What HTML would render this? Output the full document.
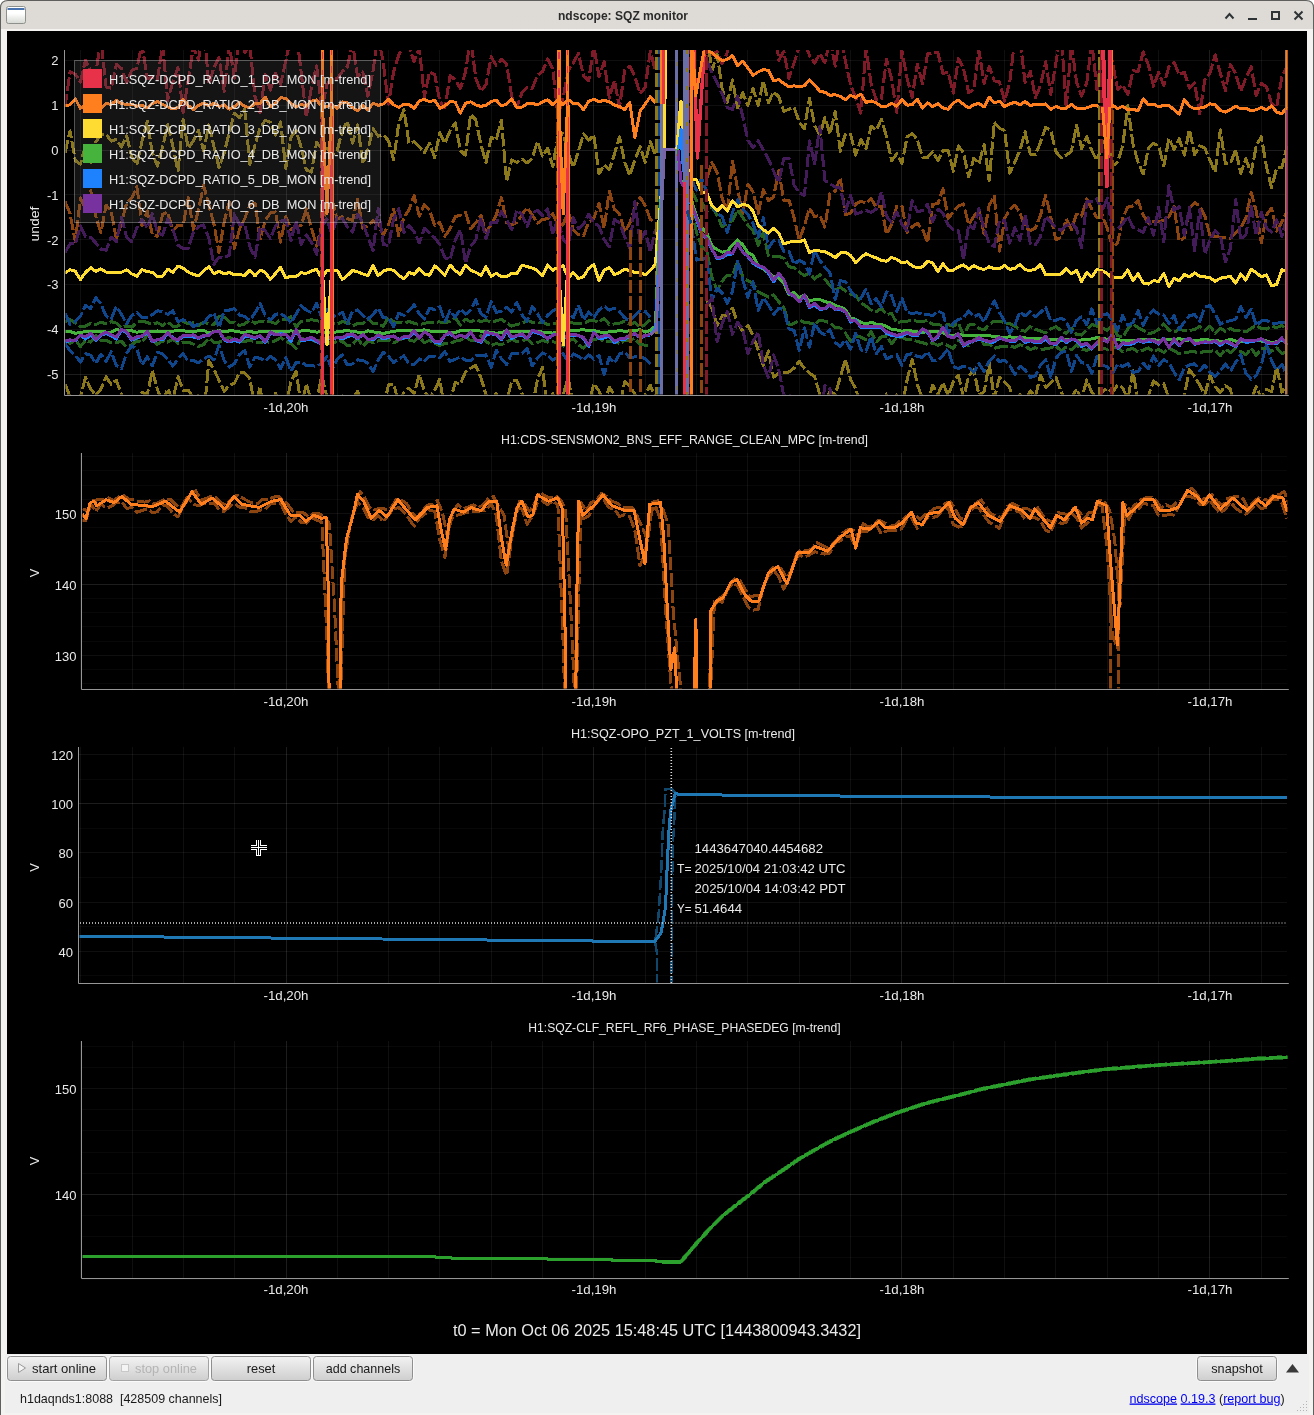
<!DOCTYPE html>
<html lang="en"><head><meta charset="utf-8"><title>ndscope: SQZ monitor</title>
<style>html,body{margin:0;padding:0;background:#ffffff;width:1314px;height:1415px;overflow:hidden}
svg{display:block;position:absolute;left:0;top:0;font-family:"Liberation Sans", "DejaVu Sans", sans-serif}
</style></head><body>
<svg width="1314" height="1415" viewBox="0 0 1314 1415">
<defs>
<linearGradient id="tb" x1="0" y1="0" x2="0" y2="1"><stop offset="0" stop-color="#dedbd7"/><stop offset="1" stop-color="#d9d6d2"/></linearGradient>
<linearGradient id="btn" x1="0" y1="0" x2="0" y2="1"><stop offset="0" stop-color="#f3f3f3"/><stop offset="1" stop-color="#cecece"/></linearGradient>
<linearGradient id="ico" x1="0" y1="0" x2="0" y2="1"><stop offset="0" stop-color="#ffffff"/><stop offset="0.4" stop-color="#ffffff"/><stop offset="1" stop-color="#d5d9d3"/></linearGradient>
</defs>
<rect x="0" y="0" width="1314" height="1415" fill="#ffffff"/>
<path d="M0 1415 V8 Q0 0 8 0 H1306 Q1314 0 1314 8 V1415 Z" fill="#5f5f5d"/>
<path d="M1 1415 V8 Q1 1 8 1 H1306 Q1313 1 1313 8 V1415 Z" fill="url(#tb)"/>
<rect x="1" y="29" width="1312" height="1386" fill="#f4f3f1"/>
<rect x="7" y="31" width="1300" height="1323" fill="#000"/>
<rect x="5" y="1354" width="1304" height="59" fill="#efefef"/>
<rect x="6.5" y="6.5" width="19" height="17" rx="2" fill="url(#ico)" stroke="#8e908c"/>
<rect x="7.5" y="8" width="17" height="2" fill="#4a74b0"/>
<text x="623" y="20" font-size="13" fill="#2b2b2b" text-anchor="middle" font-weight="bold" textLength="130" lengthAdjust="spacingAndGlyphs">ndscope: SQZ monitor</text>
<g stroke="#2e3436" stroke-width="2" fill="none">
<path d="M1225.5 18.5 L1229.5 14 L1233.5 18.5"/>
<path d="M1248 19 H1257"/>
<rect x="1272" y="12" width="7" height="7"/>
<path d="M1294.5 11.5 L1302.5 19.5 M1302.5 11.5 L1294.5 19.5"/>
</g>
<clipPath id="c1"><rect x="65.5" y="50" width="1222" height="344.5"/></clipPath>
<path d="M80.5 50V395M132.5 50V395M183.5 50V395M234.5 50V395M337.5 50V395M388.5 50V395M439.5 50V395M491.5 50V395M542.5 50V395M645.5 50V395M696.5 50V395M747.5 50V395M799.5 50V395M850.5 50V395M953.5 50V395M1004.5 50V395M1055.5 50V395M1107.5 50V395M1158.5 50V395M1261.5 50V395M65 60.5H1287M65 105.5H1287M65 194.5H1287M65 239.5H1287M65 284.5H1287M65 329.5H1287" stroke="#fff" stroke-opacity="0.058" stroke-width="1" fill="none"/>
<path d="M286.5 50V395M593.5 50V395M901.5 50V395M1209.5 50V395M65 150.5H1287M65 374.5H1287" stroke="#fff" stroke-opacity="0.115" stroke-width="1" fill="none"/>
<g clip-path="url(#c1)" fill="none" stroke-linejoin="round" shape-rendering="crispEdges">
<polyline points="65,107.1 70.1,71.5 75.3,74.1 80.4,82 85.5,60.1 90.7,71.2 95.8,73.3 100.9,39.4 106.1,86.9 111.2,88.2 116.3,64.4 121.5,68.6 126.6,82.6 131.7,70.4 136.9,68.3 142,44.2 147.2,78.7 152.3,77.1 157.4,79.7 162.6,45 167.7,100.3 172.8,82 178,67.7 183.1,112.2 188.2,80.4 193.4,46.5 198.5,60.2 203.6,26 208.8,84.6 213.9,67.5 219,57.7 224.2,91.3 229.3,44.7 234.4,78.2 239.6,33.9 244.7,52.5 249.8,45.6 255,96.5 260.1,112.6 265.2,74.7 270.4,90.1 275.5,73.1 280.6,84.4 285.8,60.7 290.9,37.3 296.1,30.7 301.2,72.2 306.3,117 311.5,87.2 316.6,65.7 321.7,109.1 326.9,85 332,77.5 337.1,78.9 342.3,71.6 347.4,66.7 352.5,43.6 357.7,77 362.8,71.9 367.9,96.1 373.1,70.4 378.2,35.1 383.3,63.4 388.5,104.3 393.6,71.7 398.7,55.2 403.9,45.9 409,46.9 414.1,61.7 419.3,47.5 424.4,97.1 429.5,72.1 434.7,74.7 439.8,101.3 444.9,107.9 450.1,75.6 455.2,79.8 460.4,88.5 465.5,72 470.6,37.7 475.8,78.4 480.9,91.3 486,84.5 491.2,56.8 496.3,65.6 501.4,59.5 506.6,64 511.7,96.2 516.8,107.2 522,92.5 527.1,87.2 532.2,88.6 537.4,75.4 542.5,71.5 547.6,59 552.8,68.6 557.9,115.9 563,98.1 568.2,70.7 573.3,62.7 578.4,53.4 583.6,75.8 588.7,80.6 593.8,45.6 599,76.4 604.1,61.9 609.3,98.1 614.4,80.4 619.5,107.4 624.7,70.2 629.8,66.1 634.9,76.7 640.1,93.7 645.2,87.5 650.3,50.9 655.5,71.4" stroke="#7f1b28" stroke-width="3" stroke-dasharray="13.5 3"/>
<polyline points="706.8,56.5 711.9,54.2 717.1,51.5 722.2,63.7 727.3,52.5 732.5,32.1 737.6,33.5 742.7,30.9 747.9,45.8 753,22.6 758.2,2.8 763.3,41.4 768.4,23.8 773.6,11.3 778.7,60.3 783.8,51.5 789,78.3 794.1,62.6 799.2,47.1 804.4,41.6 809.5,55.5 814.6,63.3 819.8,53.6 824.9,62.9 830,39 835.2,66.1 840.3,34.4 845.4,61 850.6,84.8 855.7,97.7 860.8,113.1 866,48.9 871.1,83.8 876.2,100 881.4,98.7 886.5,59.2 891.6,78.9 896.8,112.7 901.9,50.4 907.1,78.6 912.2,97.4 917.3,64 922.5,83.7 927.6,53.6 932.7,53 937.9,52.8 943,73.6 948.1,72 953.3,93.2 958.4,58.5 963.5,68.3 968.7,92.8 973.8,89.5 978.9,50.1 984.1,83.2 989.2,66.3 994.3,80.8 999.5,82 1004.6,101.2 1009.7,82.4 1014.9,38.1 1020,39.3 1025.1,82.8 1030.3,71.2 1035.4,97.6 1040.5,85.2 1045.7,61.7 1050.8,94.7 1055.9,62.5 1061.1,30.5 1066.2,108.8 1071.4,42.8 1076.5,82 1081.6,96.2 1086.8,82.7 1091.9,42.4 1097,89.9 1102.2,49 1107.3,42.8 1112.4,61.8 1117.6,89.4 1122.7,84.9 1127.8,94.5 1133,70.7 1138.1,71.6 1143.2,51.9 1148.4,64.9 1153.5,86.3 1158.6,72.3 1163.8,85.5 1168.9,66.6 1174,62.4 1179.2,74.7 1184.3,72.3 1189.4,88.1 1194.6,82.8 1199.7,113.9 1204.8,79.9 1210,73 1215.1,54.9 1220.3,73.2 1225.4,90.5 1230.5,64.7 1235.7,73.8 1240.8,91.5 1245.9,77.7 1251.1,66.9 1256.2,95.5 1261.3,83.3 1266.5,87 1271.6,103.8 1276.7,106.6 1281.9,76.5 1287,66.9" stroke="#7f1b28" stroke-width="3" stroke-dasharray="13.5 3"/>
<polyline points="65,201.5 70.1,213.8 75.3,241.6 80.4,197.8 85.5,209.1 90.7,190.5 95.8,216.5 100.9,232.9 106.1,205.1 111.2,211.8 116.3,238.6 121.5,223.2 126.6,203.2 131.7,198.1 136.9,186.8 142,225.5 147.2,210.9 152.3,234.4 157.4,236.4 162.6,214.4 167.7,211.9 172.8,230.6 178,225.1 183.1,225.8 188.2,197.7 193.4,229.5 198.5,209.8 203.6,185.4 208.8,204.8 213.9,224 219,252.4 224.2,221.8 229.3,201.6 234.4,248.3 239.6,228.8 244.7,218.7 249.8,204.7 255,203 260.1,239.1 265.2,220.6 270.4,213 275.5,211.9 280.6,242.2 285.8,216.6 290.9,229.3 296.1,226.6 301.2,225.6 306.3,209 311.5,228.3 316.6,246.1 321.7,225.3 326.9,208.3 332,199.5 337.1,219.5 342.3,216.7 347.4,218.6 352.5,220.7 357.7,199.3 362.8,228.1 367.9,225.9 373.1,220.9 378.2,224.4 383.3,235.3 388.5,224.6 393.6,209.2 398.7,235.8 403.9,217.6 409,209.7 414.1,195.8 419.3,216.1 424.4,204.6 429.5,210.1 434.7,225.4 439.8,222.4 444.9,236.2 450.1,228.5 455.2,216.6 460.4,215.3 465.5,212.4 470.6,228.8 475.8,222.9 480.9,215.3 486,232.3 491.2,224.7 496.3,214.9 501.4,197.6 506.6,222.7 511.7,224.9 516.8,222.5 522,214.9 527.1,207.5 532.2,215 537.4,223.2 542.5,219.6 547.6,218.6 552.8,213.6 557.9,224.5 563,225.1 568.2,210.8 573.3,230.1 578.4,234.5 583.6,235.6 588.7,222 593.8,218.3 599,203.4 604.1,228.6 609.3,191.1 614.4,209.3 619.5,213.7 624.7,232.1 629.8,223.2 634.9,207.3 640.1,197.3 645.2,205.5 650.3,219.5 655.5,221.5" stroke="#8c4510" stroke-width="3" stroke-dasharray="13.5 3"/>
<polyline points="706.8,178.7 711.9,162.7 717.1,172.3 722.2,198.6 727.3,210.5 732.5,161.5 737.6,188.8 742.7,214.2 747.9,184.3 753,191.8 758.2,213.3 763.3,189.8 768.4,200.7 773.6,197 778.7,170.4 783.8,200.2 789,200 794.1,217.9 799.2,240.3 804.4,225.7 809.5,208.1 814.6,216.7 819.8,215.1 824.9,227.1 830,193.6 835.2,191.2 840.3,178.1 845.4,214.8 850.6,213.2 855.7,204 860.8,201.2 866,203.2 871.1,198.7 876.2,207 881.4,206.4 886.5,234.2 891.6,224.4 896.8,206 901.9,206 907.1,232.5 912.2,226.8 917.3,223.3 922.5,228.9 927.6,242.7 932.7,204.3 937.9,203.6 943,188.8 948.1,218.7 953.3,211.9 958.4,206.2 963.5,203.8 968.7,224.6 973.8,216.6 978.9,209.3 984.1,234.1 989.2,205.2 994.3,196.2 999.5,251.2 1004.6,218.6 1009.7,209.6 1014.9,205.1 1020,212.8 1025.1,227.9 1030.3,230.5 1035.4,228 1040.5,215.4 1045.7,195.1 1050.8,217.1 1055.9,239.7 1061.1,237.6 1066.2,219 1071.4,229.5 1076.5,214.2 1081.6,216 1086.8,199 1091.9,209.2 1097,217.9 1102.2,215.1 1107.3,228.4 1112.4,247.4 1117.6,242.9 1122.7,218.2 1127.8,207 1133,205.9 1138.1,200.9 1143.2,214.8 1148.4,223.3 1153.5,221.5 1158.6,221.3 1163.8,220.7 1168.9,216.4 1174,206.5 1179.2,240.8 1184.3,237.7 1189.4,208.4 1194.6,202.6 1199.7,206.1 1204.8,215.9 1210,235.9 1215.1,236.4 1220.3,237.2 1225.4,237.7 1230.5,238.1 1235.7,232.7 1240.8,227.5 1245.9,218.1 1251.1,192.3 1256.2,210.9 1261.3,243 1266.5,215 1271.6,208.2 1276.7,231 1281.9,221.8 1287,211.7" stroke="#8c4510" stroke-width="3" stroke-dasharray="13.5 3"/>
<polyline points="65,153 70.1,130.9 75.3,160.8 80.4,164 85.5,145.7 90.7,162.4 95.8,142 100.9,134.4 106.1,134.1 111.2,141.1 116.3,139.5 121.5,147.1 126.6,135.8 131.7,156.5 136.9,164.9 142,141.3 147.2,121.1 152.3,152.8 157.4,166.1 162.6,147 167.7,124.5 172.8,145.8 178,171.1 183.1,119.4 188.2,148.3 193.4,140.9 198.5,130.4 203.6,150.8 208.8,124.9 213.9,146.3 219,167.5 224.2,152.8 229.3,132.3 234.4,113.2 239.6,117.6 244.7,109.2 249.8,164.8 255,145.1 260.1,127.9 265.2,120.2 270.4,122.5 275.5,135.1 280.6,121.9 285.8,168.5 290.9,137.4 296.1,130.6 301.2,147.4 306.3,169.8 311.5,172.1 316.6,142.4 321.7,148.8 326.9,148.3 332,154.6 337.1,151.2 342.3,130.6 347.4,121.2 352.5,143.2 357.7,124.9 362.8,163.7 367.9,149.4 373.1,128.7 378.2,136.3 383.3,134.8 388.5,140.7 393.6,159.8 398.7,123.8 403.9,109.5 409,143.4 414.1,141.6 419.3,146.9 424.4,152.6 429.5,143.3 434.7,157.8 439.8,132.5 444.9,143.3 450.1,130.6 455.2,123 460.4,150.6 465.5,155.3 470.6,114.4 475.8,119.9 480.9,144.5 486,162.4 491.2,137 496.3,140 501.4,120.1 506.6,181.4 511.7,159.8 516.8,162.4 522,159 527.1,162.9 532.2,158.2 537.4,141.6 542.5,156.2 547.6,148.1 552.8,166.7 557.9,136.5 563,133.7 568.2,153.2 573.3,167.4 578.4,151.3 583.6,133.8 588.7,140.2 593.8,135.1 599,174 604.1,165.1 609.3,169.4 614.4,154.2 619.5,136.9 624.7,162.2 629.8,175.3 634.9,160 640.1,146.8 645.2,162.6 650.3,141.6 655.5,156.2" stroke="#8c791b" stroke-width="3" stroke-dasharray="13.5 3"/>
<polyline points="706.8,33.6 711.9,70.8 717.1,54.4 722.2,89.1 727.3,102.4 732.5,80 737.6,107.8 742.7,92.7 747.9,105.5 753,88.6 758.2,105.6 763.3,81.1 768.4,102.6 773.6,91.8 778.7,96.7 783.8,111.5 789,109.1 794.1,107.3 799.2,122.1 804.4,128.8 809.5,98.4 814.6,125.4 819.8,135.1 824.9,117.3 830,134.2 835.2,111.4 840.3,151.3 845.4,134 850.6,134.1 855.7,155.2 860.8,139.5 866,149 871.1,126.2 876.2,130.2 881.4,119.2 886.5,136.6 891.6,160.6 896.8,153.8 901.9,163.8 907.1,136.9 912.2,133.6 917.3,139.6 922.5,157.2 927.6,157.4 932.7,151.7 937.9,160.6 943,150.3 948.1,150.4 953.3,171.3 958.4,145.9 963.5,153 968.7,176.9 973.8,158.1 978.9,163.9 984.1,144.5 989.2,180.9 994.3,122.3 999.5,128.2 1004.6,130.7 1009.7,173.2 1014.9,161.9 1020,150.1 1025.1,131.8 1030.3,154.1 1035.4,154.7 1040.5,142.2 1045.7,127.3 1050.8,130.5 1055.9,151.8 1061.1,157.7 1066.2,155.3 1071.4,151.3 1076.5,125.3 1081.6,148.6 1086.8,136.4 1091.9,150.9 1097,160.5 1102.2,144.7 1107.3,136.1 1112.4,166.1 1117.6,162.1 1122.7,145.9 1127.8,105.7 1133,144 1138.1,162.4 1143.2,173.9 1148.4,148 1153.5,143.5 1158.6,145.7 1163.8,166 1168.9,138.4 1174,149.3 1179.2,138.6 1184.3,155.1 1189.4,129.6 1194.6,154.6 1199.7,145.8 1204.8,148.1 1210,160.2 1215.1,172.1 1220.3,129.8 1225.4,163.6 1230.5,163.2 1235.7,149.6 1240.8,173.3 1245.9,158.8 1251.1,173.1 1256.2,146.2 1261.3,136.4 1266.5,167.1 1271.6,187.8 1276.7,167.8 1281.9,167.6 1287,146.1" stroke="#8c791b" stroke-width="3" stroke-dasharray="13.5 3"/>
<polyline points="65,383.9 70.1,397.2 75.3,396.7 80.4,397 85.5,377.5 90.7,388.9 95.8,395.4 100.9,388.9 106.1,376.9 111.2,384.2 116.3,380.1 121.5,394.6 126.6,404.8 131.7,399.3 136.9,398.7 142,392.1 147.2,395.1 152.3,370.5 157.4,389.4 162.6,402.8 167.7,388.8 172.8,400.3 178,376.7 183.1,390.3 188.2,390.2 193.4,397.9 198.5,395.7 203.6,419.7 208.8,360.8 213.9,369.4 219,380.3 224.2,391.5 229.3,385 234.4,383.4 239.6,372.4 244.7,372.8 249.8,378.6 255,407.9 260.1,386.3 265.2,424.1 270.4,411.7 275.5,393.2 280.6,402.6 285.8,406.9 290.9,381.5 296.1,371.5 301.2,405.9 306.3,384.2 311.5,401.4 316.6,402.7 321.7,375.1 326.9,397 332,400.4 337.1,409.6 342.3,395.9 347.4,398.9 352.5,398.6 357.7,391.3 362.8,412 367.9,408.2 373.1,414.2 378.2,401.4 383.3,408.4 388.5,384.8 393.6,384 398.7,403 403.9,392.3 409,388.1 414.1,393.9 419.3,374.4 424.4,391.2 429.5,398.4 434.7,390.2 439.8,379.1 444.9,410.9 450.1,401.5 455.2,382.5 460.4,383.9 465.5,372 470.6,368.2 475.8,365.4 480.9,377.6 486,394.8 491.2,402 496.3,393.4 501.4,405.1 506.6,402.1 511.7,381.2 516.8,380.6 522,393.8 527.1,401.2 532.2,407.4 537.4,379.6 542.5,367.3 547.6,411.7 552.8,393.4 557.9,404.9 563,395.8 568.2,377.3 573.3,406.5 578.4,401.3 583.6,412.2 588.7,404.1 593.8,383.7 599,390.9 604.1,404.5 609.3,387.3 614.4,394.3 619.5,407.2 624.7,381.5 629.8,386.5 634.9,394 640.1,404.8 645.2,394.5 650.3,385.1 655.5,398.4" stroke="#8c791b" stroke-width="3" stroke-dasharray="13.5 3"/>
<polyline points="706.8,300.4 711.9,307.9 717.1,325.1 722.2,315.8 727.3,315.6 732.5,308.1 737.6,322.9 742.7,331.4 747.9,325.4 753,335.4 758.2,349.8 763.3,365.4 768.4,351 773.6,377.2 778.7,373 783.8,372.9 789,371.9 794.1,368.1 799.2,361.1 804.4,368.5 809.5,373.1 814.6,376.4 819.8,394.5 824.9,404.9 830,391 835.2,394.9 840.3,377.1 845.4,359.5 850.6,379.5 855.7,388.8 860.8,404.4 866,419.5 871.1,397.3 876.2,405.1 881.4,404.5 886.5,393.9 891.6,399.1 896.8,394.9 901.9,407.9 907.1,379.9 912.2,359.6 917.3,384.4 922.5,398.7 927.6,403.2 932.7,385.1 937.9,394.6 943,382.5 948.1,395.9 953.3,381.8 958.4,375.2 963.5,397.6 968.7,376.4 973.8,369.6 978.9,394.9 984.1,391.9 989.2,363 994.3,398.4 999.5,377.2 1004.6,382.1 1009.7,387.1 1014.9,413.2 1020,394.5 1025.1,401.8 1030.3,391 1035.4,396.6 1040.5,375.2 1045.7,387.5 1050.8,382.9 1055.9,377.2 1061.1,391.6 1066.2,403.2 1071.4,399 1076.5,388.9 1081.6,399.3 1086.8,379.8 1091.9,392.7 1097,397.7 1102.2,391.6 1107.3,388.5 1112.4,392.4 1117.6,385.1 1122.7,387.8 1127.8,399.6 1133,370.8 1138.1,402.3 1143.2,399.4 1148.4,396 1153.5,381 1158.6,385.1 1163.8,383.8 1168.9,398.5 1174,401 1179.2,407.6 1184.3,396.2 1189.4,369.5 1194.6,376.6 1199.7,385 1204.8,395 1210,375.5 1215.1,386.9 1220.3,392.3 1225.4,385.7 1230.5,389.2 1235.7,418.8 1240.8,397.9 1245.9,417.1 1251.1,400.6 1256.2,386.3 1261.3,398.2 1266.5,389.4 1271.6,391.7 1276.7,366.7 1281.9,392.1 1287,386.3" stroke="#8c791b" stroke-width="3" stroke-dasharray="13.5 3"/>
<polyline points="65,321.6 70.1,319.4 75.3,323.1 80.4,326.6 85.5,326.2 90.7,323.1 95.8,324.5 100.9,322.2 106.1,323.8 111.2,321.7 116.3,323.1 121.5,327.9 126.6,325.9 131.7,327.2 136.9,322 142,321.1 147.2,322.5 152.3,324.3 157.4,322.7 162.6,325.4 167.7,322.1 172.8,326.2 178,326 183.1,320.9 188.2,324 193.4,322.7 198.5,325.4 203.6,322.2 208.8,323.6 213.9,324.5 219,316.5 224.2,317.1 229.3,322.1 234.4,322.5 239.6,325.4 244.7,324 249.8,320.1 255,323.2 260.1,321.2 265.2,322.1 270.4,321.6 275.5,323.6 280.6,319.6 285.8,319.6 290.9,316.9 296.1,327 301.2,321.4 306.3,320.6 311.5,319.7 316.6,320.8 321.7,321.5 326.9,324.2 332,323.7 337.1,323.9 342.3,321.7 347.4,322.6 352.5,325.9 357.7,323.5 362.8,323.9 367.9,318.2 373.1,323.3 378.2,323.7 383.3,326.3 388.5,316.9 393.6,321.8 398.7,322.5 403.9,323.1 409,321.5 414.1,323.2 419.3,324.7 424.4,323.4 429.5,322.3 434.7,322.3 439.8,321.9 444.9,322.8 450.1,321.2 455.2,317.7 460.4,325.2 465.5,319.1 470.6,321.9 475.8,319.5 480.9,321.5 486,320.3 491.2,322.3 496.3,320.7 501.4,319.3 506.6,322.9 511.7,326.2 516.8,324.4 522,323.5 527.1,320.4 532.2,322.2 537.4,323.8 542.5,321.5 547.6,324.8 552.8,323.2 557.9,323.8 563,321.8 568.2,321.5 573.3,323.1 578.4,323.9 583.6,323.9 588.7,320.6 593.8,320.6 599,322.4 604.1,318.2 609.3,324.5 614.4,324 619.5,323.2 624.7,321.2 629.8,324.5 634.9,322.5 640.1,327.4 645.2,324.7 650.3,319.6" stroke="#266321" stroke-width="3" stroke-dasharray="13.5 3"/>
<polyline points="691.4,189.8 696.5,200.6 701.7,202.3 706.8,211.7 711.9,206.7 717.1,215.6 722.2,226.8 727.3,223.4 732.5,220.8 737.6,209.7 742.7,217.4 747.9,225.2 753,230.5 758.2,245.3 763.3,232.5 768.4,255.9 773.6,256.3 778.7,256 783.8,258.4 789,266.6 794.1,267.9 799.2,272 804.4,275.7 809.5,273.2 814.6,279 819.8,274.6 824.9,279.2 830,285.6 835.2,290 840.3,287.3 845.4,291 850.6,294.1 855.7,295.2 860.8,302.9 866,306.2 871.1,310.1 876.2,311.7 881.4,308.2 886.5,314.6 891.6,313.3 896.8,323.2 901.9,321.4 907.1,321.1 912.2,320.6 917.3,321.2 922.5,321.8 927.6,320.2 932.7,324.5 937.9,324.3 943,326 948.1,324.3 953.3,326.5 958.4,323 963.5,335.1 968.7,325.2 973.8,324.1 978.9,328.2 984.1,330 989.2,324.5 994.3,321.1 999.5,321.3 1004.6,322.7 1009.7,323.8 1014.9,326 1020,330.1 1025.1,331.2 1030.3,326.6 1035.4,329.3 1040.5,331 1045.7,333 1050.8,329 1055.9,326.6 1061.1,330.6 1066.2,333.6 1071.4,328.3 1076.5,334.5 1081.6,335.1 1086.8,329.5 1091.9,324.5 1097,326.4 1102.2,327.6 1107.3,330.4 1112.4,324.6 1117.6,335.5 1122.7,337.4 1127.8,328.9 1133,323.8 1138.1,327.8 1143.2,330.4 1148.4,333.7 1153.5,332.5 1158.6,329.6 1163.8,323.9 1168.9,330.1 1174,332.3 1179.2,329.4 1184.3,330.6 1189.4,330.6 1194.6,329.4 1199.7,326.5 1204.8,330.3 1210,326 1215.1,333.4 1220.3,328.2 1225.4,331.3 1230.5,328.3 1235.7,331 1240.8,329.9 1245.9,331.8 1251.1,328.4 1256.2,325.3 1261.3,328.6 1266.5,329.1 1271.6,325.9 1276.7,327.7 1281.9,325.2 1287,330" stroke="#266321" stroke-width="3" stroke-dasharray="13.5 3"/>
<polyline points="65,339.7 70.1,343.6 75.3,339.2 80.4,346.7 85.5,340.3 90.7,342.1 95.8,335.8 100.9,340.5 106.1,340.4 111.2,342.8 116.3,342.6 121.5,341.3 126.6,347.1 131.7,344.9 136.9,340.7 142,342.5 147.2,335 152.3,339.1 157.4,344.4 162.6,341 167.7,342.1 172.8,339.1 178,343.3 183.1,342.5 188.2,342 193.4,344.2 198.5,346.4 203.6,344.7 208.8,338.2 213.9,342.1 219,342.6 224.2,339.2 229.3,337.4 234.4,340 239.6,340.7 244.7,341.5 249.8,340 255,341.8 260.1,342.6 265.2,341.3 270.4,342.7 275.5,340.6 280.6,337.7 285.8,341 290.9,343.8 296.1,348.8 301.2,338 306.3,339.8 311.5,339.3 316.6,342 321.7,339.7 326.9,341.7 332,344.2 337.1,340.5 342.3,341.4 347.4,345.7 352.5,344.8 357.7,338.4 362.8,346.2 367.9,341 373.1,342.4 378.2,340.9 383.3,340.5 388.5,339.9 393.6,343 398.7,340.2 403.9,338.4 409,339.8 414.1,341.4 419.3,336.9 424.4,342.8 429.5,340.3 434.7,343.3 439.8,345.5 444.9,343.4 450.1,343.5 455.2,341.1 460.4,340.1 465.5,336.9 470.6,340.4 475.8,340.2 480.9,335.7 486,341.3 491.2,345.5 496.3,343.6 501.4,345 506.6,341.8 511.7,339.4 516.8,341.5 522,340.9 527.1,338.9 532.2,343.8 537.4,342.7 542.5,340.4 547.6,342.1 552.8,341.5 557.9,343.3 563,346.1 568.2,341.2 573.3,338.8 578.4,344.6 583.6,348.3 588.7,341.7 593.8,339.6 599,338.5 604.1,341.2 609.3,342 614.4,341.3 619.5,343.8 624.7,340.3 629.8,340.1 634.9,338.5 640.1,344.6 645.2,345.1 650.3,345.7" stroke="#266321" stroke-width="3" stroke-dasharray="13.5 3"/>
<polyline points="691.4,206.3 696.5,232.5 701.7,246.9 706.8,250.6 711.9,277.3 717.1,290.5 722.2,281.1 727.3,275 732.5,275.4 737.6,261.4 742.7,276.6 747.9,280.8 753,283.4 758.2,292 763.3,294.4 768.4,297.1 773.6,295 778.7,301.7 783.8,307.2 789,324.8 794.1,323.6 799.2,319.9 804.4,322.3 809.5,323 814.6,324.1 819.8,320.2 824.9,321.2 830,322.7 835.2,327.3 840.3,328 845.4,333 850.6,341.1 855.7,336.2 860.8,337 866,339.6 871.1,331.7 876.2,342 881.4,336.7 886.5,336.1 891.6,343.8 896.8,337.3 901.9,337.4 907.1,339.8 912.2,339.3 917.3,341.5 922.5,342.7 927.6,344.4 932.7,343 937.9,345.4 943,343.2 948.1,345.9 953.3,348.4 958.4,340.7 963.5,343.7 968.7,345.7 973.8,340.1 978.9,335.8 984.1,345 989.2,344.1 994.3,348.3 999.5,347 1004.6,346.9 1009.7,346.1 1014.9,347.4 1020,344.9 1025.1,345.7 1030.3,349.8 1035.4,347.7 1040.5,349.7 1045.7,348.8 1050.8,347.8 1055.9,345.9 1061.1,350.9 1066.2,347 1071.4,349.8 1076.5,344.7 1081.6,349.1 1086.8,350.3 1091.9,347.6 1097,344.3 1102.2,347.9 1107.3,349.4 1112.4,347.9 1117.6,347.2 1122.7,351.7 1127.8,349.7 1133,348.4 1138.1,351.9 1143.2,350.1 1148.4,347.8 1153.5,351.9 1158.6,349.2 1163.8,352.5 1168.9,348.5 1174,350.6 1179.2,353.8 1184.3,352.1 1189.4,352 1194.6,351.8 1199.7,353 1204.8,351.1 1210,351.8 1215.1,350 1220.3,355.9 1225.4,349 1230.5,352.6 1235.7,348.1 1240.8,351.6 1245.9,354.7 1251.1,348.3 1256.2,355.3 1261.3,348.9 1266.5,348 1271.6,351.2 1276.7,347.8 1281.9,353.1 1287,352.8" stroke="#266321" stroke-width="3" stroke-dasharray="13.5 3"/>
<polyline points="65,313.1 70.1,324.4 75.3,321.3 80.4,316.3 85.5,305.6 90.7,308.5 95.8,297.6 100.9,304 106.1,316.1 111.2,318.9 116.3,306.4 121.5,314.3 126.6,323.8 131.7,315.5 136.9,312.3 142,317.6 147.2,317.4 152.3,314.7 157.4,310.9 162.6,311.3 167.7,314.4 172.8,310.8 178,321.9 183.1,319.8 188.2,320.8 193.4,326.5 198.5,324.1 203.6,323 208.8,316.7 213.9,313 219,327.8 224.2,310.7 229.3,310.1 234.4,308.6 239.6,315 244.7,316.6 249.8,320.3 255,313 260.1,303.6 265.2,315.4 270.4,319.9 275.5,314.5 280.6,313.3 285.8,317.4 290.9,322.8 296.1,314.1 301.2,305.5 306.3,310.2 311.5,312.8 316.6,303.2 321.7,318.1 326.9,309.6 332,316.8 337.1,315.3 342.3,312.2 347.4,323.7 352.5,311.1 357.7,309.8 362.8,315.6 367.9,319.1 373.1,314.3 378.2,308.1 383.3,317.9 388.5,317.8 393.6,326.6 398.7,313.3 403.9,315.3 409,310.7 414.1,304.9 419.3,314 424.4,319.1 429.5,308.2 434.7,309.7 439.8,306.7 444.9,321.7 450.1,310.6 455.2,317.3 460.4,309 465.5,314.2 470.6,310.3 475.8,299.7 480.9,313.8 486,317.2 491.2,301.7 496.3,312.3 501.4,311.3 506.6,307.4 511.7,312.2 516.8,302.3 522,314.9 527.1,321.2 532.2,306.8 537.4,313.2 542.5,322.5 547.6,315.2 552.8,311 557.9,308.4 563,314.8 568.2,313.2 573.3,317.7 578.4,305.1 583.6,320 588.7,311.9 593.8,317.7 599,309.9 604.1,306 609.3,310.2 614.4,308.1 619.5,311.5 624.7,317.8 629.8,320.7 634.9,315.6 640.1,310.8 645.2,311.1 650.3,317.4" stroke="#10478c" stroke-width="3" stroke-dasharray="13.5 3"/>
<polyline points="691.4,179.1 696.5,190.3 701.7,178 706.8,192.9 711.9,205.7 717.1,213.4 722.2,216.7 727.3,232.6 732.5,212.1 737.6,199.6 742.7,209.5 747.9,214.7 753,223.6 758.2,237.6 763.3,217.6 768.4,248 773.6,240.6 778.7,240.3 783.8,251.5 789,251.5 794.1,264.5 799.2,260.1 804.4,263.1 809.5,274 814.6,250.3 819.8,260.4 824.9,267.1 830,273.1 835.2,299.3 840.3,280.7 845.4,281.6 850.6,290.7 855.7,296.9 860.8,298.5 866,289 871.1,303.9 876.2,298.7 881.4,307 886.5,291.9 891.6,295.6 896.8,311.7 901.9,298.2 907.1,312.5 912.2,313.5 917.3,312.7 922.5,314.4 927.6,314.3 932.7,315.9 937.9,310.9 943,313.5 948.1,333.2 953.3,323 958.4,319.4 963.5,318 968.7,310.9 973.8,316.9 978.9,314.3 984.1,322.1 989.2,310.7 994.3,300.9 999.5,312.3 1004.6,321.2 1009.7,333.3 1014.9,324.8 1020,311.5 1025.1,316 1030.3,311.7 1035.4,316.6 1040.5,312.4 1045.7,307.6 1050.8,321.1 1055.9,320.3 1061.1,318 1066.2,321.3 1071.4,332.4 1076.5,320.6 1081.6,316.8 1086.8,324.8 1091.9,308.9 1097,323.7 1102.2,314.6 1107.3,313.9 1112.4,319.9 1117.6,330.4 1122.7,315.3 1127.8,325.6 1133,322.4 1138.1,310.8 1143.2,325.3 1148.4,314.7 1153.5,310 1158.6,314.3 1163.8,314.9 1168.9,323.6 1174,315.4 1179.2,329.5 1184.3,322 1189.4,315.6 1194.6,314.6 1199.7,321.4 1204.8,307.2 1210,305.5 1215.1,313.9 1220.3,324.2 1225.4,321.8 1230.5,320.7 1235.7,319.2 1240.8,306.4 1245.9,317.8 1251.1,309 1256.2,325.6 1261.3,321 1266.5,320.2 1271.6,323.4 1276.7,323.1 1281.9,322.6 1287,323.3" stroke="#10478c" stroke-width="3" stroke-dasharray="13.5 3"/>
<polyline points="65,343.8 70.1,350.7 75.3,355.2 80.4,362.2 85.5,353.7 90.7,355.3 95.8,363.4 100.9,354.2 106.1,361.4 111.2,351.9 116.3,365.4 121.5,368.6 126.6,353.5 131.7,345.6 136.9,349.2 142,365 147.2,356.8 152.3,365.9 157.4,352.2 162.6,353.9 167.7,358.8 172.8,366.1 178,358.9 183.1,353.7 188.2,361.3 193.4,360.4 198.5,362.8 203.6,358.9 208.8,356.1 213.9,359.8 219,345.2 224.2,360.7 229.3,367.1 234.4,363.5 239.6,354.4 244.7,350.5 249.8,367.1 255,357.2 260.1,358.4 265.2,361.1 270.4,356.4 275.5,359.9 280.6,368.7 285.8,357.3 290.9,371 296.1,362.7 301.2,361.9 306.3,365.5 311.5,365.6 316.6,366.4 321.7,363.5 326.9,356.6 332,369.3 337.1,359.4 342.3,354.9 347.4,364.9 352.5,363.9 357.7,359.9 362.8,360.3 367.9,363.3 373.1,371.4 378.2,360 383.3,352.4 388.5,356.1 393.6,362.7 398.7,358.8 403.9,355.9 409,364 414.1,364.4 419.3,358.9 424.4,361.5 429.5,356.2 434.7,356.1 439.8,357.6 444.9,351.7 450.1,361.4 455.2,359.4 460.4,356.8 465.5,360.3 470.6,360.6 475.8,355.4 480.9,356 486,354.9 491.2,367.5 496.3,350.2 501.4,358.7 506.6,364.6 511.7,353.5 516.8,353.7 522,353.5 527.1,348.6 532.2,366 537.4,358.3 542.5,352.8 547.6,355.2 552.8,360.1 557.9,357.3 563,353.8 568.2,361.9 573.3,354 578.4,356.5 583.6,360 588.7,354.8 593.8,359.3 599,355.3 604.1,374.6 609.3,357.4 614.4,363 619.5,354.1 624.7,352.1 629.8,357.9 634.9,356.9 640.1,356.8 645.2,358.6 650.3,364.2" stroke="#10478c" stroke-width="3" stroke-dasharray="13.5 3"/>
<polyline points="691.4,224.6 696.5,260.1 701.7,259.5 706.8,258 711.9,301 717.1,288 722.2,293.2 727.3,303.4 732.5,291.3 737.6,261.5 742.7,279.7 747.9,297.3 753,281.8 758.2,310.6 763.3,297.9 768.4,304.9 773.6,314.5 778.7,308.2 783.8,309.6 789,329.1 794.1,330.4 799.2,350.8 804.4,327.9 809.5,347.2 814.6,323.2 819.8,331.8 824.9,334.8 830,329.9 835.2,342.5 840.3,346.3 845.4,339.8 850.6,349.3 855.7,333.1 860.8,349.8 866,351.2 871.1,336.6 876.2,353.8 881.4,346.5 886.5,358.8 891.6,356.6 896.8,354.7 901.9,365.3 907.1,354.6 912.2,353.7 917.3,356.3 922.5,357.4 927.6,351.6 932.7,360.9 937.9,360.8 943,355.2 948.1,348.7 953.3,366.6 958.4,368.6 963.5,366.2 968.7,366.9 973.8,372.4 978.9,363.6 984.1,371.7 989.2,361 994.3,356 999.5,361.7 1004.6,360.1 1009.7,365.4 1014.9,374.4 1020,366.1 1025.1,370 1030.3,377.4 1035.4,375.8 1040.5,365 1045.7,359.7 1050.8,377.7 1055.9,358.2 1061.1,352.5 1066.2,351.1 1071.4,371.5 1076.5,355.5 1081.6,362.6 1086.8,363.8 1091.9,373.2 1097,356.4 1102.2,364.8 1107.3,366.9 1112.4,374.2 1117.6,364 1122.7,366.8 1127.8,363.5 1133,372.2 1138.1,371.7 1143.2,363.1 1148.4,368.8 1153.5,356 1158.6,365.5 1163.8,359.8 1168.9,362.6 1174,372 1179.2,379.9 1184.3,367.8 1189.4,365 1194.6,363.7 1199.7,370.7 1204.8,365.1 1210,372.3 1215.1,376.3 1220.3,370.7 1225.4,363.9 1230.5,371 1235.7,362 1240.8,354.7 1245.9,373.2 1251.1,379.2 1256.2,375.7 1261.3,364.6 1266.5,344.5 1271.6,360.7 1276.7,370.4 1281.9,364.3 1287,375.6" stroke="#10478c" stroke-width="3" stroke-dasharray="13.5 3"/>
<polyline points="65,252.4 70.1,243.8 75.3,244 80.4,225.8 85.5,236.8 90.7,237.3 95.8,242.9 100.9,249.1 106.1,250.1 111.2,237.2 116.3,241.7 121.5,217.4 126.6,237.1 131.7,241.6 136.9,227.8 142,219.7 147.2,227.9 152.3,213.7 157.4,232.2 162.6,235.3 167.7,218.8 172.8,229.2 178,245.3 183.1,248.4 188.2,248.3 193.4,232.4 198.5,226.6 203.6,224.8 208.8,237.9 213.9,264.6 219,257 224.2,258 229.3,254.9 234.4,213.7 239.6,224.8 244.7,223.8 249.8,246.7 255,257.3 260.1,227.2 265.2,230.8 270.4,238.6 275.5,225.8 280.6,221.3 285.8,219.8 290.9,240.9 296.1,220.5 301.2,244.5 306.3,234.9 311.5,242.1 316.6,254.4 321.7,226.5 326.9,218.9 332,234.4 337.1,217.5 342.3,218.3 347.4,226.9 352.5,232.3 357.7,214.2 362.8,222.4 367.9,237.3 373.1,250.7 378.2,208.1 383.3,244.3 388.5,245.7 393.6,219.1 398.7,208.5 403.9,232.2 409,225.5 414.1,231.8 419.3,242.9 424.4,228.3 429.5,232.7 434.7,237.8 439.8,244.5 444.9,257.8 450.1,259.6 455.2,240 460.4,229.6 465.5,263.1 470.6,246.2 475.8,239.9 480.9,217.7 486,239 491.2,222 496.3,222.9 501.4,211.2 506.6,220 511.7,229.6 516.8,210.3 522,214.6 527.1,226.7 532.2,212.9 537.4,210.3 542.5,215.5 547.6,208.7 552.8,234.9 557.9,218.2 563,239 568.2,245.2 573.3,217.5 578.4,228.9 583.6,224 588.7,214.1 593.8,223 599,226.1 604.1,239.7 609.3,246.8 614.4,219.1 619.5,223.1 624.7,236.7 629.8,248.2 634.9,201.1 640.1,242.5 645.2,231 650.3,252 655.5,229.4" stroke="#421b58" stroke-width="3" stroke-dasharray="13.5 3"/>
<polyline points="706.8,60.7 711.9,72.3 717.1,82.7 722.2,93.9 727.3,107.5 732.5,109.4 737.6,96.2 742.7,116 747.9,140.2 753,147.9 758.2,140.8 763.3,149.8 768.4,158.9 773.6,171.2 778.7,182.4 783.8,158.6 789,158.3 794.1,185.1 799.2,192.8 804.4,195.3 809.5,140.8 814.6,163.9 819.8,126.5 824.9,180.3 830,183.7 835.2,187 840.3,187.5 845.4,211.4 850.6,195.3 855.7,214.2 860.8,212.3 866,210.2 871.1,212.5 876.2,209.1 881.4,191.9 886.5,216.3 891.6,222.4 896.8,212.2 901.9,224.3 907.1,230.4 912.2,200.3 917.3,211.8 922.5,210.5 927.6,204.3 932.7,221.9 937.9,209.1 943,213.4 948.1,225.1 953.3,229.8 958.4,230.8 963.5,259.1 968.7,224.5 973.8,228.8 978.9,208.3 984.1,229 989.2,243.1 994.3,246.8 999.5,220.4 1004.6,220.5 1009.7,243.2 1014.9,227.8 1020,240.3 1025.1,214.4 1030.3,243.9 1035.4,244.7 1040.5,236.6 1045.7,216.5 1050.8,221.9 1055.9,227.6 1061.1,230.4 1066.2,225.6 1071.4,223 1076.5,228.6 1081.6,247.5 1086.8,201.3 1091.9,201.4 1097,198.9 1102.2,211.1 1107.3,198.1 1112.4,229.3 1117.6,228.8 1122.7,223.7 1127.8,216.4 1133,227.3 1138.1,229.8 1143.2,232.6 1148.4,217.7 1153.5,235 1158.6,207.4 1163.8,241.9 1168.9,185.2 1174,210.4 1179.2,206.6 1184.3,235.1 1189.4,207.5 1194.6,250.6 1199.7,209.8 1204.8,254.2 1210,239.9 1215.1,230.9 1220.3,235.2 1225.4,261.9 1230.5,248.2 1235.7,199.5 1240.8,240.2 1245.9,234.3 1251.1,206 1256.2,235.3 1261.3,212.2 1266.5,228.1 1271.6,232.1 1276.7,220 1281.9,236.7 1287,215.5" stroke="#421b58" stroke-width="3" stroke-dasharray="13.5 3"/>
<polyline points="65,461.2 70.1,453.5 75.3,447.2 80.4,439.4 85.5,448.2 90.7,446.1 95.8,441.8 100.9,466.7 106.1,452 111.2,459.2 116.3,466.2 121.5,457.3 126.6,457.6 131.7,456.5 136.9,460.7 142,457.8 147.2,456.5 152.3,452.7 157.4,445.9 162.6,445 167.7,442.8 172.8,450.5 178,462.9 183.1,443.4 188.2,442.8 193.4,439 198.5,447.3 203.6,459.4 208.8,448.7 213.9,452.7 219,428 224.2,444.2 229.3,453.5 234.4,444.7 239.6,433.1 244.7,451.1 249.8,449.1 255,467.4 260.1,447.8 265.2,448 270.4,445.9 275.5,450.1 280.6,432.4 285.8,459.6 290.9,458.1 296.1,449.4 301.2,446.4 306.3,454.3 311.5,454.3 316.6,446.8 321.7,447.7 326.9,452.9 332,446.4 337.1,446.1 342.3,445.1 347.4,445.5 352.5,436.5 357.7,438.2 362.8,451.2 367.9,457.9 373.1,451.1 378.2,415.6 383.3,428.8 388.5,449.7 393.6,466.3 398.7,465 403.9,451 409,446.8 414.1,445.2 419.3,465.9 424.4,455.5 429.5,442.2 434.7,457.7 439.8,459.6 444.9,432.5 450.1,440.4 455.2,457.9 460.4,460.4 465.5,440.1 470.6,448.1 475.8,458.2 480.9,455 486,441 491.2,446.5 496.3,455.8 501.4,456 506.6,442 511.7,471.2 516.8,456.5 522,437 527.1,444.4 532.2,422.6 537.4,438.1 542.5,447.4 547.6,472.9 552.8,456.7 557.9,455.1 563,458.6 568.2,454 573.3,445.3 578.4,462.4 583.6,457.8 588.7,466.7 593.8,463.6 599,444 604.1,444.7 609.3,445.4 614.4,445.7 619.5,453.8 624.7,449.4 629.8,442.6 634.9,463 640.1,466.1 645.2,454 650.3,441 655.5,442.6" stroke="#421b58" stroke-width="3" stroke-dasharray="13.5 3"/>
<polyline points="706.8,305.4 711.9,297.8 717.1,341.8 722.2,323.2 727.3,311.6 732.5,334.3 737.6,322.2 742.7,329.2 747.9,353.7 753,341.7 758.2,332.2 763.3,364.5 768.4,377.5 773.6,355 778.7,369.1 783.8,395.8 789,394.2 794.1,406 799.2,399.9 804.4,396.2 809.5,400.7 814.6,409.4 819.8,422 824.9,385.4 830,388.8 835.2,415.6 840.3,430.1 845.4,415.4 850.6,421.7 855.7,408.7 860.8,402.3 866,422 871.1,423.1 876.2,417.7 881.4,406.2 886.5,422.6 891.6,424.4 896.8,422.4 901.9,424.1 907.1,421.3 912.2,432.9 917.3,433.8 922.5,452.8 927.6,451.8 932.7,432.4 937.9,412.9 943,434.1 948.1,422.1 953.3,448.4 958.4,413.7 963.5,421.1 968.7,449.1 973.8,434.5 978.9,441.4 984.1,442.2 989.2,427.2 994.3,442.3 999.5,422.7 1004.6,426.3 1009.7,459.9 1014.9,436.1 1020,439 1025.1,420.6 1030.3,449.4 1035.4,425.2 1040.5,423 1045.7,424.7 1050.8,420.7 1055.9,413.8 1061.1,427.7 1066.2,428.2 1071.4,433.6 1076.5,423.2 1081.6,422.4 1086.8,430.3 1091.9,436.4 1097,425.5 1102.2,435.4 1107.3,435 1112.4,452.4 1117.6,450.5 1122.7,448.6 1127.8,455.3 1133,435 1138.1,457.6 1143.2,446.9 1148.4,436 1153.5,446 1158.6,428.6 1163.8,463.3 1168.9,450.2 1174,424.6 1179.2,424.7 1184.3,433.2 1189.4,434.4 1194.6,448.4 1199.7,457.2 1204.8,461 1210,455.7 1215.1,435.3 1220.3,458.7 1225.4,465.2 1230.5,424.6 1235.7,434.9 1240.8,440.1 1245.9,435.8 1251.1,459.3 1256.2,456.6 1261.3,451 1266.5,433.1 1271.6,418.6 1276.7,430.9 1281.9,435 1287,435.1" stroke="#421b58" stroke-width="3" stroke-dasharray="13.5 3"/>
<polyline points="65,105.9 70.1,104.7 75.3,98.9 80.4,108.4 85.5,105.4 90.7,107.3 95.8,101.5 100.9,108.7 106.1,103.4 111.2,104.4 116.3,100.4 121.5,103.9 126.6,104.1 131.7,104.2 136.9,106.2 142,105.2 147.2,108 152.3,103.7 157.4,101.6 162.6,104.4 167.7,106.8 172.8,109 178,107.8 183.1,99.5 188.2,105.5 193.4,109.5 198.5,105.4 203.6,103.2 208.8,105.6 213.9,103.2 219,106.6 224.2,104.9 229.3,109.2 234.4,106.7 239.6,102.6 244.7,106.4 249.8,107.8 255,103.2 260.1,103.2 265.2,97.2 270.4,106.8 275.5,103 280.6,97.7 285.8,98.3 290.9,103.3 296.1,106.9 301.2,104.5 306.3,106.1 311.5,101.2 316.6,100 321.7,106.9 326.9,106.4 332,104.6 337.1,108.6 342.3,101.9 347.4,102.9 352.5,107.6 357.7,110.7 362.8,105.1 367.9,109.9 373.1,103.1 378.2,105.4 383.3,104 388.5,99.3 393.6,104.8 398.7,107.4 403.9,104.3 409,104.2 414.1,108.8 419.3,100.9 424.4,99.3 429.5,101.8 434.7,100.3 439.8,108.2 444.9,105.7 450.1,101.7 455.2,102.1 460.4,113.2 465.5,103.3 470.6,101.8 475.8,105 480.9,106.4 486,105.2 491.2,101.5 496.3,100.3 501.4,105.8 506.6,104.2 511.7,99 516.8,107.4 522,107 527.1,103.7 532.2,103.3 537.4,104.8 542.5,102.1 547.6,99.7 552.8,104.8 557.9,99.6 563,104.9 568.2,99.6 573.3,103.4 578.4,103.6 583.6,109.7 588.7,101.3 593.8,99.3 599,101.6 604.1,100.3 609.3,101.8 614.4,105.2 619.5,106.6 624.7,109.6 629.8,102.3 634.9,138 640.1,111.2 645.2,104.1 650.3,96.7 655.5,103" stroke="#ff7f1e" stroke-width="3"/>
<polyline points="706.8,51.3 711.9,52.5 717.1,57.1 722.2,60.7 727.3,59.4 732.5,55.6 737.6,65.7 742.7,61.3 747.9,67.9 753,75.3 758.2,71.9 763.3,69.6 768.4,70.3 773.6,80.6 778.7,79.7 783.8,83.3 789,86.7 794.1,85.8 799.2,86.7 804.4,85.8 809.5,79.8 814.6,85.1 819.8,91.1 824.9,92.3 830,95.2 835.2,94.8 840.3,96.5 845.4,99.6 850.6,95.5 855.7,97.5 860.8,94.1 866,102.5 871.1,100.9 876.2,102.7 881.4,106.8 886.5,106.3 891.6,103.2 896.8,106.1 901.9,99.7 907.1,105.1 912.2,104.8 917.3,99.2 922.5,108.2 927.6,102.7 932.7,106.6 937.9,103.6 943,107.9 948.1,109.4 953.3,102.9 958.4,100.1 963.5,104.3 968.7,108 973.8,104.6 978.9,103.5 984.1,107 989.2,97.1 994.3,102.9 999.5,101.3 1004.6,106.5 1009.7,103.8 1014.9,102.4 1020,104.7 1025.1,101.4 1030.3,105.8 1035.4,104.1 1040.5,105 1045.7,104 1050.8,109.2 1055.9,106.5 1061.1,108.3 1066.2,108.4 1071.4,104.3 1076.5,108.3 1081.6,108.1 1086.8,108 1091.9,105.8 1097,105.5 1102.2,109.4 1107.3,114.3 1112.4,105.2 1117.6,108.7 1122.7,106.2 1127.8,109.7 1133,109 1138.1,110.9 1143.2,98.9 1148.4,104.7 1153.5,104.1 1158.6,106.9 1163.8,105.3 1168.9,105.4 1174,109.7 1179.2,114 1184.3,99.5 1189.4,106.1 1194.6,108.8 1199.7,108.1 1204.8,107 1210,103.8 1215.1,104.9 1220.3,110.4 1225.4,112.2 1230.5,109.4 1235.7,106.2 1240.8,109 1245.9,108.3 1251.1,110.8 1256.2,109.8 1261.3,107.5 1266.5,109.9 1271.6,105.9 1276.7,112 1281.9,113.9 1287,106.6" stroke="#ff7f1e" stroke-width="3"/>
<polyline points="65,272.8 70.1,269.8 75.3,271.3 80.4,279.7 85.5,272.4 90.7,267.7 95.8,271.5 100.9,268.9 106.1,272.1 111.2,272.6 116.3,272.3 121.5,272.3 126.6,269.8 131.7,273.8 136.9,276.2 142,269.5 147.2,271.8 152.3,272.2 157.4,277 162.6,276.3 167.7,269.1 172.8,272.3 178,266 183.1,268.1 188.2,272.1 193.4,274.5 198.5,275.8 203.6,270.8 208.8,266.6 213.9,273.6 219,271.3 224.2,273.7 229.3,272.6 234.4,274.9 239.6,274.6 244.7,275.4 249.8,270.2 255,276 260.1,270 265.2,272.3 270.4,279.4 275.5,273.4 280.6,267.3 285.8,278 290.9,276 296.1,276.6 301.2,272.8 306.3,273.4 311.5,271.1 316.6,269.2 321.7,278.1 326.9,270.5 332,270.1 337.1,270.2 342.3,279.4 347.4,275.5 352.5,270.5 357.7,271.8 362.8,274 367.9,275.5 373.1,265.6 378.2,275.6 383.3,271.1 388.5,269.3 393.6,270.4 398.7,275.2 403.9,279 409,272.6 414.1,274.2 419.3,268.7 424.4,274 429.5,275.3 434.7,266 439.8,269.9 444.9,275.2 450.1,265 455.2,270.5 460.4,274.4 465.5,265.2 470.6,270.4 475.8,272.2 480.9,275.6 486,266.9 491.2,276.4 496.3,273.2 501.4,276.8 506.6,276.7 511.7,273.4 516.8,273.9 522,265 527.1,266.6 532.2,268 537.4,270.6 542.5,275.7 547.6,264.9 552.8,270.7 557.9,266.7 563,265.8 568.2,277.9 573.3,272.4 578.4,278.5 583.6,276.7 588.7,268.3 593.8,264.6 599,280.3 604.1,270.4 609.3,267.4 614.4,274.8 619.5,272.5 624.7,269.3 629.8,270.6 634.9,272.6 640.1,272.3 645.2,275 650.3,270.6" stroke="#ffdc32" stroke-width="3"/>
<polyline points="686.3,155.1 691.4,178.6 696.5,179.8 701.7,192.4 706.8,193.2 711.9,205.5 717.1,211 722.2,205.6 727.3,211.1 732.5,200.7 737.6,206.9 742.7,204.2 747.9,205.4 753,211.1 758.2,225.3 763.3,229.6 768.4,233.2 773.6,228.4 778.7,233.1 783.8,243.9 789,242.2 794.1,241.4 799.2,241.7 804.4,240 809.5,252.6 814.6,250.3 819.8,250.9 824.9,251.8 830,254.2 835.2,257.8 840.3,252.9 845.4,252.3 850.6,255.5 855.7,262.8 860.8,257.6 866,253.6 871.1,256.1 876.2,257.9 881.4,260.4 886.5,261.3 891.6,257.5 896.8,259.3 901.9,262.9 907.1,261.8 912.2,265.8 917.3,268 922.5,266.8 927.6,261.2 932.7,262.9 937.9,271.7 943,263.9 948.1,270.2 953.3,270.1 958.4,266.9 963.5,264.8 968.7,269.2 973.8,265.6 978.9,268.3 984.1,269.5 989.2,266.8 994.3,268.7 999.5,268.6 1004.6,265.6 1009.7,269.5 1014.9,268.2 1020,264.3 1025.1,269.8 1030.3,270.3 1035.4,269.4 1040.5,264.6 1045.7,274.8 1050.8,274.7 1055.9,274.9 1061.1,274 1066.2,268.8 1071.4,273.9 1076.5,270.5 1081.6,281.6 1086.8,272.4 1091.9,276.9 1097,269.4 1102.2,270.9 1107.3,273.5 1112.4,278.1 1117.6,277.8 1122.7,277.2 1127.8,270 1133,280.7 1138.1,273.8 1143.2,282.9 1148.4,284.1 1153.5,280.7 1158.6,281.4 1163.8,273.4 1168.9,286.8 1174,278.4 1179.2,281 1184.3,274.4 1189.4,277 1194.6,273 1199.7,276.2 1204.8,276.9 1210,277.7 1215.1,281.5 1220.3,278.2 1225.4,277.3 1230.5,276.4 1235.7,283.2 1240.8,274 1245.9,280.1 1251.1,269 1256.2,272.6 1261.3,277 1266.5,274.9 1271.6,285.9 1276.7,284.3 1281.9,269.8 1287,271.3" stroke="#ffdc32" stroke-width="3"/>
<polyline points="65,331.2 70.1,331.4 75.3,333.4 80.4,332.1 85.5,331.9 90.7,332 95.8,331.5 100.9,331 106.1,332 111.2,332.4 116.3,329.5 121.5,330.7 126.6,330.9 131.7,330.8 136.9,332.2 142,331.2 147.2,332 152.3,331.2 157.4,331 162.6,331.9 167.7,331 172.8,331.2 178,330.5 183.1,330.5 188.2,331.7 193.4,331.9 198.5,330.7 203.6,330.3 208.8,333 213.9,331.4 219,330.7 224.2,331.6 229.3,330.9 234.4,331 239.6,332 244.7,332.3 249.8,331.5 255,332.5 260.1,331.6 265.2,331.3 270.4,331.4 275.5,331.2 280.6,331.7 285.8,331.7 290.9,330.9 296.1,331.4 301.2,331 306.3,330.8 311.5,331.1 316.6,332.1 321.7,331.8 326.9,332.5 332,332.9 337.1,331.8 342.3,331.1 347.4,330.7 352.5,331.4 357.7,332.1 362.8,332.8 367.9,330.8 373.1,331.9 378.2,332.4 383.3,333.6 388.5,332.2 393.6,331.6 398.7,330.3 403.9,330.5 409,330.3 414.1,330.3 419.3,330.4 424.4,329.9 429.5,330.9 434.7,331.6 439.8,332 444.9,331.5 450.1,332.3 455.2,332.5 460.4,330.6 465.5,331 470.6,330.3 475.8,330.4 480.9,331.2 486,331.3 491.2,332.5 496.3,333.3 501.4,332.3 506.6,331.5 511.7,331.4 516.8,331.4 522,331.9 527.1,331 532.2,331.7 537.4,331.3 542.5,332.2 547.6,332.7 552.8,333.1 557.9,331.8 563,330.5 568.2,329.9 573.3,330.7 578.4,330.1 583.6,329.8 588.7,330.7 593.8,330.5 599,331.7 604.1,333 609.3,331.7 614.4,331.8 619.5,330.3 624.7,331.3 629.8,330.9 634.9,330.4 640.1,329.7 645.2,332.1 650.3,330.4" stroke="#46b43c" stroke-width="3"/>
<polyline points="686.3,190.8 691.4,199.7 696.5,216.2 701.7,227.6 706.8,232.9 711.9,245.8 717.1,249.5 722.2,252.1 727.3,251.3 732.5,244.9 737.6,240 742.7,244.7 747.9,252.8 753,255.3 758.2,265.6 763.3,269 768.4,273 773.6,276.8 778.7,277.6 783.8,283.6 789,294.3 794.1,292.4 799.2,297.9 804.4,295 809.5,301.1 814.6,299.4 819.8,299.5 824.9,301.6 830,302.8 835.2,305.5 840.3,307.1 845.4,309.5 850.6,318.2 855.7,319.3 860.8,322.3 866,324.1 871.1,322.2 876.2,324.1 881.4,324.6 886.5,326.4 891.6,329.4 896.8,329.9 901.9,331.2 907.1,330 912.2,331.2 917.3,331.9 922.5,332.5 927.6,331.6 932.7,331.2 937.9,331.2 943,332.9 948.1,335.7 953.3,335.3 958.4,334.3 963.5,335.3 968.7,335.2 973.8,335.7 978.9,335.5 984.1,335 989.2,335.5 994.3,336.8 999.5,337 1004.6,337.9 1009.7,336.6 1014.9,338 1020,337.8 1025.1,337.9 1030.3,339 1035.4,338.4 1040.5,338.6 1045.7,339.1 1050.8,339.4 1055.9,339.8 1061.1,340.3 1066.2,339.9 1071.4,339 1076.5,341 1081.6,339.8 1086.8,339.7 1091.9,338.9 1097,337.6 1102.2,338.3 1107.3,339.2 1112.4,339.8 1117.6,339.7 1122.7,340.3 1127.8,340.6 1133,340.7 1138.1,340.1 1143.2,339.9 1148.4,339.7 1153.5,339.2 1158.6,340.8 1163.8,339.3 1168.9,339.8 1174,340.2 1179.2,338.5 1184.3,340.2 1189.4,340 1194.6,340.3 1199.7,340.1 1204.8,339.1 1210,340.2 1215.1,340.4 1220.3,341.2 1225.4,341.1 1230.5,339.4 1235.7,341.1 1240.8,341.4 1245.9,341.5 1251.1,341.3 1256.2,340.4 1261.3,341.1 1266.5,340.7 1271.6,343.1 1276.7,341.4 1281.9,340.3 1287,340.6" stroke="#46b43c" stroke-width="3"/>
<polyline points="65,342.1 70.1,340.7 75.3,340.7 80.4,335.3 85.5,339.1 90.7,335.1 95.8,340.4 100.9,335.1 106.1,333.7 111.2,335.6 116.3,339.1 121.5,329.6 126.6,332.9 131.7,340.1 136.9,337.9 142,336.5 147.2,332.6 152.3,341.9 157.4,339.7 162.6,339.7 167.7,333.7 172.8,337.5 178,340.7 183.1,336.1 188.2,336.4 193.4,337 198.5,338.5 203.6,336.3 208.8,334.9 213.9,331.4 219,331.3 224.2,340 229.3,342 234.4,340.3 239.6,342.1 244.7,336 249.8,336.8 255,338.6 260.1,336 265.2,342.7 270.4,333.1 275.5,334.9 280.6,333.7 285.8,334.3 290.9,341.5 296.1,330.6 301.2,340.2 306.3,340 311.5,338.8 316.6,341.8 321.7,344.4 326.9,336.7 332,339.2 337.1,337.5 342.3,339 347.4,336.5 352.5,335.5 357.7,338.6 362.8,334.7 367.9,339.1 373.1,339.9 378.2,336.1 383.3,338.8 388.5,337.6 393.6,335.8 398.7,339.4 403.9,338 409,337.3 414.1,332.2 419.3,337.5 424.4,331.7 429.5,335.2 434.7,342.4 439.8,343.3 444.9,335.5 450.1,333.5 455.2,337.5 460.4,335.5 465.5,337.4 470.6,332.4 475.8,340.2 480.9,342.3 486,334.9 491.2,333.7 496.3,334.8 501.4,339.9 506.6,330.9 511.7,338.8 516.8,335.7 522,335.1 527.1,338.8 532.2,331.5 537.4,332.9 542.5,334.8 547.6,339 552.8,334.7 557.9,333.7 563,339.2 568.2,335.4 573.3,335.6 578.4,335.2 583.6,338.7 588.7,346.5 593.8,332.1 599,338.3 604.1,338 609.3,335.8 614.4,342.7 619.5,339.7 624.7,339.9 629.8,335.5 634.9,333.9 640.1,337.8 645.2,336 650.3,334.9" stroke="#1e82ff" stroke-width="3"/>
<polyline points="686.3,189.3 691.4,205.3 696.5,218.7 701.7,235.2 706.8,238.3 711.9,249.3 717.1,258.7 722.2,257.7 727.3,254.2 732.5,254 737.6,243.6 742.7,252 747.9,256.6 753,263.2 758.2,266.8 763.3,268.1 768.4,273.1 773.6,281.8 778.7,273.6 783.8,279.4 789,293.3 794.1,296.6 799.2,302 804.4,296.1 809.5,307.7 814.6,305.3 819.8,309.4 824.9,308.8 830,305.3 835.2,309.3 840.3,309.6 845.4,311.9 850.6,322.1 855.7,319.8 860.8,327.7 866,327.5 871.1,327.2 876.2,327.8 881.4,327.8 886.5,333.4 891.6,335.5 896.8,336.2 901.9,336.2 907.1,332.7 912.2,335.4 917.3,335.8 922.5,328.9 927.6,332.5 932.7,340.7 937.9,337.1 943,327.4 948.1,335.9 953.3,337.6 958.4,334.5 963.5,346.1 968.7,342.6 973.8,341.1 978.9,339.1 984.1,340.6 989.2,342.1 994.3,342 999.5,337.8 1004.6,339.5 1009.7,341.3 1014.9,341.6 1020,337.2 1025.1,342.8 1030.3,340.8 1035.4,342.6 1040.5,342.4 1045.7,339.1 1050.8,343.5 1055.9,344.8 1061.1,338.3 1066.2,342.8 1071.4,339.4 1076.5,340.5 1081.6,346.6 1086.8,343.9 1091.9,349.1 1097,342.8 1102.2,339.3 1107.3,342.1 1112.4,334.5 1117.6,348.4 1122.7,343.7 1127.8,345 1133,343.7 1138.1,340.6 1143.2,342.5 1148.4,341.3 1153.5,340.9 1158.6,344 1163.8,338.2 1168.9,347.6 1174,340.3 1179.2,345.8 1184.3,339.8 1189.4,339.2 1194.6,344.3 1199.7,343 1204.8,342.8 1210,343 1215.1,341.4 1220.3,345.4 1225.4,341.5 1230.5,344.3 1235.7,346.8 1240.8,339.1 1245.9,342.6 1251.1,341.7 1256.2,340.8 1261.3,339.3 1266.5,343 1271.6,343.2 1276.7,343.9 1281.9,338.7 1287,345.1" stroke="#1e82ff" stroke-width="3"/>
<polyline points="65,340.8 70.1,339.9 75.3,340.6 80.4,335.1 85.5,336.9 90.7,333.1 95.8,339.2 100.9,334.9 106.1,332.1 111.2,334.7 116.3,337.1 121.5,329.2 126.6,331.7 131.7,339.4 136.9,336.6 142,336.1 147.2,331.1 152.3,341.3 157.4,339.6 162.6,338.5 167.7,332.7 172.8,338.1 178,339.9 183.1,335.2 188.2,335.5 193.4,334.8 198.5,338.2 203.6,335.5 208.8,335.3 213.9,331.6 219,330.9 224.2,339.3 229.3,341.3 234.4,339 239.6,340.8 244.7,334.5 249.8,336.1 255,337.5 260.1,335.7 265.2,341.6 270.4,332 275.5,334.4 280.6,335.1 285.8,334 290.9,339 296.1,329.9 301.2,339.9 306.3,339.1 311.5,337.3 316.6,340.7 321.7,343.8 326.9,336.8 332,338.6 337.1,337.5 342.3,337.9 347.4,334.7 352.5,334 357.7,338.2 362.8,334.6 367.9,339.3 373.1,338.8 378.2,334.9 383.3,337.5 388.5,336.6 393.6,335.9 398.7,339.9 403.9,336.4 409,337.1 414.1,330.1 419.3,338.2 424.4,331.7 429.5,335.1 434.7,341.5 439.8,342 444.9,335.1 450.1,332.3 455.2,337.6 460.4,335.1 465.5,337.4 470.6,332 475.8,339.9 480.9,341.3 486,331.7 491.2,333.9 496.3,334.1 501.4,338.7 506.6,330 511.7,337 516.8,335.6 522,333.8 527.1,338.6 532.2,330.1 537.4,332 542.5,333.8 547.6,338.6 552.8,335.2 557.9,333.7 563,337.9 568.2,334.8 573.3,334.3 578.4,335.4 583.6,337.4 588.7,345 593.8,332.9 599,337.2 604.1,335.9 609.3,335.5 614.4,341.2 619.5,338.9 624.7,338.5 629.8,334.9 634.9,333.7 640.1,337.3 645.2,335.5 650.3,334.6" stroke="#7832a0" stroke-width="3"/>
<polyline points="686.3,190.1 691.4,204.1 696.5,217.4 701.7,233.5 706.8,237.9 711.9,249.1 717.1,257.8 722.2,256.8 727.3,252.5 732.5,253.2 737.6,243.1 742.7,252.2 747.9,256 753,262.3 758.2,265.2 763.3,267.3 768.4,271.4 773.6,280.1 778.7,273.4 783.8,279.4 789,293 794.1,295.9 799.2,301.8 804.4,294.8 809.5,306.4 814.6,303.6 819.8,308.4 824.9,308.3 830,304.2 835.2,309.2 840.3,308.7 845.4,311.6 850.6,320.5 855.7,320.9 860.8,326.3 866,326 871.1,326.4 876.2,326.8 881.4,326.9 886.5,331.7 891.6,333.5 896.8,335.4 901.9,334.3 907.1,332.4 912.2,334.3 917.3,334.7 922.5,329 927.6,331.4 932.7,340.3 937.9,335.7 943,327.2 948.1,336.4 953.3,337.7 958.4,333.7 963.5,345.1 968.7,341.6 973.8,340.8 978.9,337.8 984.1,340.1 989.2,341.5 994.3,340.5 999.5,337.1 1004.6,340 1009.7,340 1014.9,340.8 1020,336.7 1025.1,341.1 1030.3,340.4 1035.4,341.4 1040.5,341.5 1045.7,336.4 1050.8,344 1055.9,343.8 1061.1,337.2 1066.2,341.2 1071.4,338.9 1076.5,340.2 1081.6,344.9 1086.8,343.4 1091.9,348.1 1097,342.1 1102.2,338.3 1107.3,342.2 1112.4,334.1 1117.6,347.6 1122.7,342.8 1127.8,343.4 1133,342.5 1138.1,339.4 1143.2,341.7 1148.4,339.6 1153.5,340.6 1158.6,343.3 1163.8,338.4 1168.9,347.5 1174,338.9 1179.2,345 1184.3,340.3 1189.4,338.4 1194.6,343.7 1199.7,343 1204.8,341.8 1210,342.3 1215.1,340.6 1220.3,344 1225.4,341.1 1230.5,342.7 1235.7,346.2 1240.8,338.5 1245.9,341 1251.1,340.7 1256.2,340.3 1261.3,338.6 1266.5,342 1271.6,343.4 1276.7,342.6 1281.9,337.9 1287,345.2" stroke="#7832a0" stroke-width="3"/>
<path d="M320.7 105V405" stroke="#8c4510" stroke-width="2" stroke-dasharray="13.5 3"/>
<path d="M333.3 105V405" stroke="#8c4510" stroke-width="2" stroke-dasharray="13.5 3"/>
<path d="M321.3 105V405" stroke="#ff7f1e" stroke-width="1.6"/>
<path d="M332.7 105V405" stroke="#ff7f1e" stroke-width="1.6"/>
<path d="M322.5 272 L327 345 L331.5 272" stroke="#ffdc32" stroke-width="3"/>
<path d="M322.5 105V405" stroke="#e8324a" stroke-width="3"/>
<path d="M331.5 105V405" stroke="#e8324a" stroke-width="3"/>
<path d="M322.5 105 L327 214 L331.5 105" stroke="#ff7f1e" stroke-width="3"/>
<path d="M322.5 40V106" stroke="#ff7f1e" stroke-width="3.2"/>
<path d="M331.5 40V106" stroke="#ff7f1e" stroke-width="3.2"/>
<path d="M322.5 52V106M331.5 48V106" stroke="#e8324a" stroke-width="1.6" stroke-dasharray="7 11"/>
<path d="M557.2 105V405" stroke="#8c4510" stroke-width="2" stroke-dasharray="13.5 3"/>
<path d="M569.3 105V405" stroke="#8c4510" stroke-width="2" stroke-dasharray="13.5 3"/>
<path d="M557.8 105V405" stroke="#ff7f1e" stroke-width="1.6"/>
<path d="M568.7 105V405" stroke="#ff7f1e" stroke-width="1.6"/>
<path d="M559 272 L563.2 345 L567.5 272" stroke="#ffdc32" stroke-width="3"/>
<path d="M559 105V405" stroke="#e8324a" stroke-width="3"/>
<path d="M567.5 105V405" stroke="#e8324a" stroke-width="3"/>
<path d="M559 105 L563.2 214 L567.5 105" stroke="#ff7f1e" stroke-width="3"/>
<path d="M559 40V106" stroke="#ff7f1e" stroke-width="3.2"/>
<path d="M567.5 40V106" stroke="#ff7f1e" stroke-width="3.2"/>
<path d="M559 52V106M567.5 48V106" stroke="#e8324a" stroke-width="1.6" stroke-dasharray="7 11"/>
<path d="M630.5 230V405" stroke="#8c4510" stroke-width="3" stroke-dasharray="13.5 3"/>
<path d="M640 230V405" stroke="#8c4510" stroke-width="3" stroke-dasharray="13.5 3"/>
<path d="M656.7 40V405" stroke="#8c791b" stroke-width="3" stroke-dasharray="13.5 3"/>
<path d="M658.6 40V405" stroke="#10478c" stroke-width="2" stroke-dasharray="13.5 3"/>
<path d="M650.3 270.6 L655.4 264 L664 160 L666 40" stroke="#ffdc32" stroke-width="3"/>
<path d="M650.3 330.4 L655.4 326 L659 240 L663.5 149" stroke="#46b43c" stroke-width="3"/>
<path d="M650.3 334.9 L655.8 328 L659.5 240 L664 149" stroke="#1e82ff" stroke-width="3"/>
<path d="M650.3 334.6 L656.2 330 L660 240 L664.5 149.5 H676.5" stroke="#7a62a8" stroke-width="3"/>
<path d="M661.8 86V405" stroke="#6a6fa8" stroke-width="3"/>
<path d="M661 40V104" stroke="#ff7f1e" stroke-width="2.5"/>
<path d="M663.3 40V104" stroke="#e8324a" stroke-width="3.5"/>
<path d="M676.6 40V405" stroke="#6a6fa8" stroke-width="3.5"/>
<path d="M676.6 44V400" stroke="#8c791b" stroke-width="1.6" stroke-dasharray="4 14"/>
<path d="M677 149 L681 101 L683.4 149 L686.3 155.1" stroke="#ffdc32" stroke-width="3.2"/>
<path d="M677.5 149 L681 180 L686.3 190.8" stroke="#46b43c" stroke-width="3"/>
<path d="M678.5 149 L681 129 L682.5 160 L686.3 189.3" stroke="#1e82ff" stroke-width="3"/>
<path d="M678 150 L681 182 L686.3 190.1" stroke="#7832a0" stroke-width="3"/>
<path d="M684.7 40V182" stroke="#6a6fa8" stroke-width="2.5"/>
<path d="M684.7 182V405" stroke="#e8324a" stroke-width="3"/>
<path d="M687 40V405" stroke="#6a6fa8" stroke-width="3"/>
<path d="M687 50V400" stroke="#8c791b" stroke-width="1.4" stroke-dasharray="4 14"/>
<path d="M690 40V405" stroke="#7f1b28" stroke-width="2.5" stroke-dasharray="13.5 3"/>
<path d="M691.6 40V405" stroke="#ff7f1e" stroke-width="2.5"/>
<path d="M693.6 40 L697.4 158 L705 40" stroke="#e8324a" stroke-width="3.4"/>
<path d="M692.3 40 L695.6 96 L703.8 52 L706.8 51.3" stroke="#ff7f1e" stroke-width="3"/>
<path d="M701.2 165V405" stroke="#8c4510" stroke-width="3" stroke-dasharray="13.5 3"/>
<path d="M706.3 40V405" stroke="#7f1b28" stroke-width="3" stroke-dasharray="13.5 3"/>
<path d="M687 210.6 L691.4 224.6" stroke="#10478c" stroke-width="3" stroke-dasharray="13.5 3"/>
<path d="M1099.3 40V405" stroke="#8c791b" stroke-width="2.5" stroke-dasharray="13.5 3"/>
<path d="M1101.5 40V405" stroke="#7f1b28" stroke-width="3" stroke-dasharray="13.5 3"/>
<path d="M1111.2 40V405" stroke="#7f1b28" stroke-width="3" stroke-dasharray="13.5 3"/>
<path d="M1113.2 110V405" stroke="#8c4510" stroke-width="2.5" stroke-dasharray="13.5 3"/>
<path d="M1111.5 40V108" stroke="#ff7f1e" stroke-width="2"/>
<path d="M1103 40 L1106.8 186 L1110.5 40" stroke="#e8324a" stroke-width="4"/>
<path d="M1102.5 107 L1106.8 158 L1110 107" stroke="#ff7f1e" stroke-width="3"/>
<path d="M1286 40V405" stroke="#b07850" stroke-width="3"/>
<path d="M1287 40V110" stroke="#ff7f1e" stroke-width="2"/>
<path d="M1286.5 110V330" stroke="#b03a70" stroke-width="2"/>
</g>
<rect x="74.5" y="60.5" width="306" height="162" fill="#646464" fill-opacity="0.2" stroke="#ffffff" stroke-opacity="0.3"/>
<rect x="83" y="69" width="19" height="19" fill="#e8324a"/>
<text x="109" y="83.5" font-size="13" fill="#e9e9e9" textLength="262" lengthAdjust="spacingAndGlyphs">H1:SQZ-DCPD_RATIO_1_DB_MON [m-trend]</text>
<rect x="83" y="94" width="19" height="19" fill="#ff7f1e"/>
<text x="109" y="108.5" font-size="13" fill="#e9e9e9" textLength="262" lengthAdjust="spacingAndGlyphs">H1:SQZ-DCPD_RATIO_2_DB_MON [m-trend]</text>
<rect x="83" y="119" width="19" height="19" fill="#ffdc32"/>
<text x="109" y="133.5" font-size="13" fill="#e9e9e9" textLength="262" lengthAdjust="spacingAndGlyphs">H1:SQZ-DCPD_RATIO_3_DB_MON [m-trend]</text>
<rect x="83" y="144" width="19" height="19" fill="#46b43c"/>
<text x="109" y="158.5" font-size="13" fill="#e9e9e9" textLength="262" lengthAdjust="spacingAndGlyphs">H1:SQZ-DCPD_RATIO_4_DB_MON [m-trend]</text>
<rect x="83" y="169" width="19" height="19" fill="#1e82ff"/>
<text x="109" y="183.5" font-size="13" fill="#e9e9e9" textLength="262" lengthAdjust="spacingAndGlyphs">H1:SQZ-DCPD_RATIO_5_DB_MON [m-trend]</text>
<rect x="83" y="194" width="19" height="19" fill="#7832a0"/>
<text x="109" y="208.5" font-size="13" fill="#e9e9e9" textLength="262" lengthAdjust="spacingAndGlyphs">H1:SQZ-DCPD_RATIO_6_DB_MON [m-trend]</text>
<path d="M64.5 50V395.5H1288.8" stroke="#969696" stroke-width="1" fill="none"/>
<text x="58.5" y="65.4" font-size="13" fill="#e9e9e9" text-anchor="end">2</text>
<text x="58.5" y="110.2" font-size="13" fill="#e9e9e9" text-anchor="end">1</text>
<text x="58.5" y="155" font-size="13" fill="#e9e9e9" text-anchor="end">0</text>
<text x="58.5" y="199.8" font-size="13" fill="#e9e9e9" text-anchor="end">-1</text>
<text x="58.5" y="244.6" font-size="13" fill="#e9e9e9" text-anchor="end">-2</text>
<text x="58.5" y="289.4" font-size="13" fill="#e9e9e9" text-anchor="end">-3</text>
<text x="58.5" y="334.2" font-size="13" fill="#e9e9e9" text-anchor="end">-4</text>
<text x="58.5" y="379" font-size="13" fill="#e9e9e9" text-anchor="end">-5</text>
<text x="286" y="412" font-size="13" fill="#e9e9e9" text-anchor="middle" textLength="45" lengthAdjust="spacingAndGlyphs">-1d,20h</text>
<text x="594" y="412" font-size="13" fill="#e9e9e9" text-anchor="middle" textLength="45" lengthAdjust="spacingAndGlyphs">-1d,19h</text>
<text x="902" y="412" font-size="13" fill="#e9e9e9" text-anchor="middle" textLength="45" lengthAdjust="spacingAndGlyphs">-1d,18h</text>
<text x="1210" y="412" font-size="13" fill="#e9e9e9" text-anchor="middle" textLength="45" lengthAdjust="spacingAndGlyphs">-1d,17h</text>
<text transform="translate(38.6 224) rotate(-90)" font-size="13" fill="#e9e9e9" text-anchor="middle" textLength="35" lengthAdjust="spacingAndGlyphs">undef</text>
<clipPath id="c2"><rect x="82.5" y="453" width="1205" height="235.5"/></clipPath>
<path d="M82 683.5H1287M82 669.5H1287M82 641.5H1287M82 626.5H1287M82 612.5H1287M82 598.5H1287M82 570.5H1287M82 556.5H1287M82 541.5H1287M82 527.5H1287M82 499.5H1287M82 485.5H1287M82 470.5H1287M82 456.5H1287" stroke="#fff" stroke-opacity="0.03" stroke-width="1" fill="none"/>
<path d="M80.5 453V689M132.5 453V689M183.5 453V689M234.5 453V689M337.5 453V689M388.5 453V689M439.5 453V689M491.5 453V689M542.5 453V689M645.5 453V689M696.5 453V689M747.5 453V689M799.5 453V689M850.5 453V689M953.5 453V689M1004.5 453V689M1055.5 453V689M1107.5 453V689M1158.5 453V689M1261.5 453V689M82 513.5H1287M82 655.5H1287" stroke="#fff" stroke-opacity="0.058" stroke-width="1" fill="none"/>
<path d="M286.5 453V689M593.5 453V689M901.5 453V689M1209.5 453V689M82 584.5H1287" stroke="#fff" stroke-opacity="0.115" stroke-width="1" fill="none"/>
<g clip-path="url(#c2)" fill="none" stroke-linejoin="round" shape-rendering="crispEdges">
<polyline points="83,508.6 88.1,511.6 93.3,500.2 98.4,499.9 103.5,499.9 108.7,497.9 113.8,500.6 118.9,496.7 124.1,495.9 129.2,499.3 134.3,500.1 139.5,501.6 144.6,502.1 149.7,500.8 154.9,504.5 160,501.5 165.1,499 170.3,499.2 175.4,504.4 180.5,508.1 185.7,499.6 190.8,493.4 195.9,490.9 201.1,500.5 206.2,498.3 211.3,496.1 216.5,497.9 221.6,503.5 226.7,504.5 231.9,498.8 237,495.2 242.1,497.6 247.3,500.8 252.4,503.1 257.5,503.7 262.7,499.3 267.8,500 272.9,497.3 278.1,496.3 283.2,499.9 288.3,505.2 293.5,512.3 298.6,512.9 303.7,513 308.9,517 314,513 319.1,513.6 324.3,516.4 329.4,524 334.5,607 339.7,722.1 344.8,558.6 349.9,526 355.1,506.2 360.2,491.5 365.3,498.8 370.5,508.7 375.6,509.5 380.7,508.1 385.9,509.3 391,508.3 396.1,499.6 401.3,500.5 406.4,503.2 411.5,511.6 416.7,517.5 421.8,512.3 426.9,505.2 432.1,504.4 437.2,500.2 442.3,512 447.5,536.8 452.6,513 457.7,504.4 462.9,509 468,507 473.1,504.9 478.3,507.5 483.4,504.6 488.5,498.4 493.7,496.6 498.8,506.8 503.9,514.8 509.1,551.1 514.2,523.9 519.3,501.7 524.5,503.8 529.6,511.3 534.7,502.9 539.9,492.1 545,495.9 550.1,498.3 555.3,495.6 560.4,499.7 565.5,508 570.7,608.4 575.8,722.8 580.9,502.4 586.1,511 591.2,502.5 596.3,500.4 601.5,493.4 606.6,496.4 611.7,501.3 616.9,503 622,507.3 627.1,507.9 632.3,507.4 637.4,516.5 642.5,527.9 647.7,540.5 652.8,502.1 657.9,500.8 663.1,509.3 668.2,525 673.3,612.2 678.5,667.6 683.6,711.6 688.7,722.5 693.9,721.4 699,722.8 704.1,723.4 709.3,722.7 714.4,601.1 719.5,598.1 724.7,594.5 729.8,584.7 734.9,578.9 740.1,580.6 745.2,589.6 750.3,597.3 755.5,595.3 760.6,595.7 765.7,581 770.9,569.1 776,565.9 781.1,568.7 786.3,577.2 791.4,571.5 796.5,554.3 801.7,549.2 806.8,550.9 811.9,548.8 817.1,542.5 822.2,545.6 827.3,547.5 832.5,544.2 837.6,538.9 842.7,532.8 847.9,529.7 853,529.9 858.1,537.7 863.3,523.8 868.4,527.2 873.5,525.4 878.7,520.2 883.8,522.3 888.9,526.1 894.1,525.9 899.2,521.7 904.3,518.4 909.5,514 914.6,514.8 919.7,519.3 924.9,514.7 930,511.9 935.1,508.1 940.3,507.5 945.4,503.4 950.5,501.8 955.7,510.1 960.8,519.1 965.9,517.9 971.1,506.3 976.2,503 981.3,500 986.5,507.6 991.6,514.7 996.7,515.3 1001.9,517.9 1007,506.9 1012.1,503.3 1017.3,505.6 1022.4,508.4 1027.5,508.8 1032.7,511.6 1037.8,507.7 1042.9,515.5 1048.1,520.8 1053.2,521.3 1058.3,512.8 1063.5,513.8 1068.6,514.5 1073.7,508.3 1078.9,511.3 1084,518.7 1089.1,512.6 1094.3,512.7 1099.4,500.1 1104.5,501.7 1109.7,510.3 1114.8,541 1119.9,606.8 1125.1,504.2 1130.2,510.1 1135.3,504.7 1140.5,500.1 1145.6,497.9 1150.7,497.2 1155.9,499.9 1161,507.7 1166.1,504.8 1171.3,507.6 1176.4,502.5 1181.5,501 1186.7,491.8 1191.8,488.4 1196.9,494.2 1202.1,499.2 1207.2,497.8 1212.3,494.7 1217.5,502 1222.6,505 1227.7,498.4 1232.9,497.1 1238,496.4 1243.1,498.8 1248.3,508.7 1253.4,502.3 1258.5,497.8 1263.7,499.5 1268.8,500.4 1273.9,495 1279.1,494.8 1284.2,491.5 1289.3,505.2" stroke="#8c4510" stroke-width="3" stroke-dasharray="13.5 3"/>
<polyline points="80.5,520.5 85.6,521 90.8,503.7 95.9,511.5 101,504.1 106.2,508.1 111.3,506.5 116.4,502.7 121.6,501.9 126.7,508.2 131.8,507.7 137,512.2 142.1,510.4 147.2,508.7 152.4,512.8 157.5,511.6 162.6,504.7 167.8,506.4 172.9,513.4 178,516.8 183.2,506.9 188.3,498.6 193.4,504.3 198.6,505.7 203.7,503.7 208.8,504.1 214,502.9 219.1,509.8 224.2,511.6 229.4,506.6 234.5,503.5 239.6,507.3 244.8,507.4 249.9,511.4 255,511.9 260.2,510.2 265.3,509.3 270.4,503.9 275.6,503.6 280.7,503.4 285.8,514.1 291,521.6 296.1,516.9 301.2,522.3 306.4,523.1 311.5,517.4 316.6,520.1 321.8,522 326.9,636.6 332,806.4 337.2,800.9 342.3,579.3 347.4,537.1 352.6,515 357.7,502.7 362.8,507.4 368,517.1 373.1,519.8 378.2,515.3 383.4,521.8 388.5,514.9 393.6,508.5 398.8,507.8 403.9,512.4 409,518.9 414.2,526 419.3,518.2 424.4,514.2 429.6,510.5 434.7,511.3 439.8,539.7 445,557.4 450.1,519.7 455.2,515.7 460.4,514.4 465.5,512.8 470.6,511.5 475.8,511.1 480.9,511 486,510.4 491.2,503.4 496.3,515 501.4,561.3 506.6,575.7 511.7,538.8 516.8,508.1 522,509.1 527.1,524.2 532.2,516.5 537.4,503.2 542.5,501 547.6,504.7 552.8,500.9 557.9,505.6 563,640.3 568.2,808.8 573.3,805.7 578.4,513 583.6,518.7 588.7,516 593.8,505.9 599,500.5 604.1,500.6 609.2,507.8 614.4,508.9 619.5,516.5 624.6,514.7 629.8,516.6 634.9,530.7 640,565.4 645.2,553.9 650.3,513.2 655.4,505.5 660.6,520.7 665.7,610.3 670.8,683.3 676,742.2 681.1,771.5 686.2,769.4 691.4,769.7 696.5,774.2 701.6,772.1 706.8,770.3 711.9,608.7 717,601.7 722.2,602.1 727.3,590.2 732.4,583.2 737.6,585.7 742.7,595.5 747.8,606.5 753,610.1 758.1,609.6 763.2,586.8 768.4,576.3 773.5,570 778.6,576.6 783.8,589.1 788.9,579 794,562.1 799.2,554.7 804.3,557.2 809.4,555 814.6,551.7 819.7,552.8 824.8,554.1 830,553 835.1,542.5 840.2,541 845.4,536.8 850.5,535.8 855.6,547.3 860.8,531.1 865.9,531.9 871,528.5 876.2,524.8 881.3,533.8 886.4,531.1 891.6,530.2 896.7,530.3 901.8,528.5 907,518.9 912.1,518.6 917.2,528.3 922.4,524.4 927.5,517.1 932.6,517.7 937.8,515.9 942.9,509.4 948,507.8 953.2,524.5 958.3,527.1 963.4,525.8 968.6,512.3 973.7,507.2 978.8,508.2 984,515.5 989.1,522.3 994.2,524.9 999.4,528.3 1004.5,514.9 1009.6,508.8 1014.8,510.8 1019.9,511.8 1025,519.4 1030.2,516.8 1035.3,517.7 1040.4,520.5 1045.6,530.1 1050.7,532.4 1055.8,519.2 1061,523.8 1066.1,522.1 1071.2,513.1 1076.4,517.8 1081.5,528 1086.6,523.5 1091.8,518.6 1096.9,503.4 1102,506.3 1107.2,548.2 1112.3,634.9 1117.4,648 1122.6,511.5 1127.7,520.7 1132.8,511.6 1138,510.5 1143.1,502.8 1148.2,504.6 1153.4,505.8 1158.5,515.2 1163.6,515.9 1168.8,514.6 1173.9,515.1 1179,505.8 1184.2,496.1 1189.3,496.3 1194.4,497.9 1199.6,504.1 1204.7,504.7 1209.8,499.8 1215,507.8 1220.1,513 1225.2,509.4 1230.4,501.9 1235.5,508 1240.6,511.7 1245.8,514.1 1250.9,510 1256,503 1261.2,508.9 1266.3,507.1 1271.4,500.2 1276.6,498.8 1281.7,502.8 1286.8,518.7" stroke="#8c4510" stroke-width="3" stroke-dasharray="13.5 3"/>
<path d="M1110.5 560V700M1118.5 700V560" stroke="#8c4510" stroke-width="3" stroke-dasharray="13.5 3"/>
<polyline points="82,514 86,518.5 90,503 94,501 96.8,505.8 106.2,499.6 114,502.7 121.8,496.5 131.2,504.3 153,506.5 165.5,501.2 179.5,512.1 192,491.8 201.4,504.3 212.3,498 224.8,509 234.1,496.5 241.9,504.3 259.1,507.4 271.6,501.2 280.9,499.6 290.3,515.2 299.6,515.2 305.9,521.4 313.7,515.2 321.5,518.3 326.2,517.4 328.4,594.8 329.3,725.8 340.2,725.8 341.1,585.4 346.5,538.6 352.7,516.8 357.4,494.3 363.6,501.2 371.4,518.3 379.2,510.5 387,516.8 397.9,499.6 405.7,509 415.1,519.9 427.6,507.4 436.9,505.8 441.6,532.4 445.7,549.5 449.4,519.9 454.1,509 463.5,512.1 471.3,507.4 475,509 481.2,510.5 489,501.2 496.8,501.2 501.5,538.6 506.2,565.1 512.4,529.2 517.1,507.4 521.8,501.2 528,516.8 532.7,515.2 537.4,494.9 548.3,501.2 557.7,498 562.4,509 564.9,616.6 566.1,725.8 575.5,725.8 576.7,601 578.6,501.2 582.6,515.2 593.6,505.8 602.9,494.9 612.3,505.8 624.8,510.5 634.1,510.5 640.4,541.7 645,563.6 649.7,504.3 660.6,502.7 663.8,538.6 666.9,601 670.9,669.6 674.7,647.8 678.4,725.8 693.4,725.8 695.9,619.7 697.2,725.8 709.6,725.8 710.9,610.4 716.8,601 723,597.9 730.9,582.3 737.1,579.8 744.9,594.8 751.1,601 758.9,601 768.3,572.9 777.7,566.7 787,583.8 797.9,552.6 808.9,552.6 815.1,546.4 827.6,551.1 838.5,538.6 851,529.2 855.7,548 860.3,527.7 869.7,529.2 879.1,521.4 885,527.7 894.4,527.7 902.2,523 911.5,512.1 916.2,523 922.4,524.6 928.7,513.6 939.6,512.1 949,502.7 955.2,518.3 963,524.6 970.8,507.4 978.6,502.7 988,515.2 1000.4,521.4 1009.8,505.8 1022.3,510.5 1030.1,518.3 1034.8,509 1042.6,518.3 1050.4,527.7 1056.6,515.2 1064.4,519.9 1075.3,507.4 1081.6,523 1087.8,518.3 1092.5,519.9 1097.2,501.2 1106.5,505.8 1111.2,569.8 1117.4,644.7 1120.6,569.8 1122.8,502.7 1126.8,515.2 1134.6,509 1144,499.6 1153.3,499.6 1159.6,510.5 1168.9,510.5 1178.3,507.4 1187.7,490.2 1197,496.5 1203.3,504.3 1209.5,494.9 1220.4,509 1232.9,498 1246.9,510.5 1257.9,499.6 1265.7,505.8 1273.5,496.5 1282.8,498 1287.5,512.1" stroke="#ff7f1e" stroke-width="3"/>
</g>
<path d="M81.5 453V689.5H1288.8" stroke="#969696" stroke-width="1" fill="none"/>
<text x="76.5" y="518.7" font-size="13" fill="#e9e9e9" text-anchor="end">150</text>
<text x="76.5" y="589.6" font-size="13" fill="#e9e9e9" text-anchor="end">140</text>
<text x="76.5" y="660.5" font-size="13" fill="#e9e9e9" text-anchor="end">130</text>
<text x="286" y="706" font-size="13" fill="#e9e9e9" text-anchor="middle" textLength="45" lengthAdjust="spacingAndGlyphs">-1d,20h</text>
<text x="594" y="706" font-size="13" fill="#e9e9e9" text-anchor="middle" textLength="45" lengthAdjust="spacingAndGlyphs">-1d,19h</text>
<text x="902" y="706" font-size="13" fill="#e9e9e9" text-anchor="middle" textLength="45" lengthAdjust="spacingAndGlyphs">-1d,18h</text>
<text x="1210" y="706" font-size="13" fill="#e9e9e9" text-anchor="middle" textLength="45" lengthAdjust="spacingAndGlyphs">-1d,17h</text>
<text transform="translate(38.6 573) rotate(-90)" font-size="13" fill="#e9e9e9" text-anchor="middle">V</text>
<text x="684.5" y="443.5" font-size="13" fill="#e9e9e9" text-anchor="middle" textLength="367" lengthAdjust="spacingAndGlyphs">H1:CDS-SENSMON2_BNS_EFF_RANGE_CLEAN_MPC [m-trend]</text>
<clipPath id="c3"><rect x="79.5" y="747" width="1208" height="235.5"/></clipPath>
<path d="M79 779.5H1287M79 828.5H1287M79 877.5H1287M79 926.5H1287M79 975.5H1287" stroke="#fff" stroke-opacity="0.03" stroke-width="1" fill="none"/>
<path d="M80.5 747V983M132.5 747V983M183.5 747V983M234.5 747V983M337.5 747V983M388.5 747V983M439.5 747V983M491.5 747V983M542.5 747V983M645.5 747V983M696.5 747V983M747.5 747V983M799.5 747V983M850.5 747V983M953.5 747V983M1004.5 747V983M1055.5 747V983M1107.5 747V983M1158.5 747V983M1261.5 747V983M79 754.5H1287M79 852.5H1287M79 902.5H1287M79 951.5H1287" stroke="#fff" stroke-opacity="0.058" stroke-width="1" fill="none"/>
<path d="M286.5 747V983M593.5 747V983M901.5 747V983M1209.5 747V983M79 803.5H1287" stroke="#fff" stroke-opacity="0.115" stroke-width="1" fill="none"/>
<g clip-path="url(#c3)" fill="none" stroke-linejoin="round" shape-rendering="crispEdges">
<path d="M655.5 939 L658.5 916 L661 876.5 L662.9 828 L664.6 810.7 L665.5 789 L671.5 789 L675.3 792.5" stroke="#12476c" stroke-width="2.5" stroke-dasharray="13.5 3"/>
<path d="M655 941.4 L656.8 952.6 L657.3 990 M671.6 990 L672.4 849 L673.8 830 L675.3 796" stroke="#12476c" stroke-width="2.5" stroke-dasharray="13.5 3"/>
<polyline points="79,936.3 200,937.3 300,938.3 440,939.5 560,940.8 655,941.4 661.1,932.7 665.5,907.6 667.2,866.1 668.9,831.5 670.7,810.7 675.3,793.4 680,794.8 760,795.2 900,796.6 1100,797.5 1287,798" stroke="#1f77b4" stroke-width="3"/>
</g>
<path d="M80 923H671" stroke="#dcdcdc" stroke-width="1.6" stroke-dasharray="1 2" fill="none"/>
<path d="M672.5 923H1287" stroke="#9a9a9a" stroke-width="1.6" stroke-dasharray="1 2" fill="none"/>
<path d="M671.3 748V983" stroke="#dcdcdc" stroke-width="1.6" stroke-dasharray="1 2" fill="none"/>
<text x="694.5" y="852.7" font-size="13" fill="#e9e9e9" textLength="128.5" lengthAdjust="spacingAndGlyphs">1443647040.4454682</text>
<text x="677" y="873.2" font-size="13" fill="#e9e9e9" textLength="14.5" lengthAdjust="spacingAndGlyphs">T=</text>
<text x="694.5" y="873.2" font-size="13" fill="#e9e9e9" textLength="151" lengthAdjust="spacingAndGlyphs">2025/10/04 21:03:42 UTC</text>
<text x="694.5" y="892.8" font-size="13" fill="#e9e9e9" textLength="151" lengthAdjust="spacingAndGlyphs">2025/10/04 14:03:42 PDT</text>
<text x="677" y="912.7" font-size="13" fill="#e9e9e9" textLength="14.5" lengthAdjust="spacingAndGlyphs">Y=</text>
<text x="694.5" y="912.7" font-size="13" fill="#e9e9e9" textLength="47.5" lengthAdjust="spacingAndGlyphs">51.4644</text>
<path d="M78.5 747V983.5H1288.8" stroke="#969696" stroke-width="1" fill="none"/>
<text x="73" y="759.9" font-size="13" fill="#e9e9e9" text-anchor="end">120</text>
<text x="73" y="809.1" font-size="13" fill="#e9e9e9" text-anchor="end">100</text>
<text x="73" y="858.3" font-size="13" fill="#e9e9e9" text-anchor="end">80</text>
<text x="73" y="907.5" font-size="13" fill="#e9e9e9" text-anchor="end">60</text>
<text x="73" y="956.7" font-size="13" fill="#e9e9e9" text-anchor="end">40</text>
<text x="286" y="1000" font-size="13" fill="#e9e9e9" text-anchor="middle" textLength="45" lengthAdjust="spacingAndGlyphs">-1d,20h</text>
<text x="594" y="1000" font-size="13" fill="#e9e9e9" text-anchor="middle" textLength="45" lengthAdjust="spacingAndGlyphs">-1d,19h</text>
<text x="902" y="1000" font-size="13" fill="#e9e9e9" text-anchor="middle" textLength="45" lengthAdjust="spacingAndGlyphs">-1d,18h</text>
<text x="1210" y="1000" font-size="13" fill="#e9e9e9" text-anchor="middle" textLength="45" lengthAdjust="spacingAndGlyphs">-1d,17h</text>
<text transform="translate(38.6 867.3) rotate(-90)" font-size="13" fill="#e9e9e9" text-anchor="middle">V</text>
<text x="683" y="737.5" font-size="13" fill="#e9e9e9" text-anchor="middle" textLength="224" lengthAdjust="spacingAndGlyphs">H1:SQZ-OPO_PZT_1_VOLTS [m-trend]</text>
<g shape-rendering="crispEdges"><path d="M256 840h5v5h6v5h-6v6h-5v-6h-5v-5h5z" fill="#000"/><path d="M256.5 840V845.5H251M260.5 840V845.5H267M251 849.5H256.5V855.5H260.5V849.5H267M258.5 840V856M251 847.5H267" stroke="#fff" stroke-width="1" fill="none"/></g>
<clipPath id="c4"><rect x="82.5" y="1041" width="1205" height="236.5"/></clipPath>
<path d="M82 1279.5H1287M82 1257.5H1287M82 1236.5H1287M82 1215.5H1287M82 1173.5H1287M82 1152.5H1287M82 1130.5H1287M82 1109.5H1287M82 1067.5H1287M82 1046.5H1287" stroke="#fff" stroke-opacity="0.03" stroke-width="1" fill="none"/>
<path d="M80.5 1041V1278M132.5 1041V1278M183.5 1041V1278M234.5 1041V1278M337.5 1041V1278M388.5 1041V1278M439.5 1041V1278M491.5 1041V1278M542.5 1041V1278M645.5 1041V1278M696.5 1041V1278M747.5 1041V1278M799.5 1041V1278M850.5 1041V1278M953.5 1041V1278M1004.5 1041V1278M1055.5 1041V1278M1107.5 1041V1278M1158.5 1041V1278M1261.5 1041V1278M82 1088.5H1287" stroke="#fff" stroke-opacity="0.058" stroke-width="1" fill="none"/>
<path d="M286.5 1041V1278M593.5 1041V1278M901.5 1041V1278M1209.5 1041V1278M82 1194.5H1287" stroke="#fff" stroke-opacity="0.115" stroke-width="1" fill="none"/>
<g clip-path="url(#c4)" fill="none" stroke-linejoin="round" shape-rendering="crispEdges">
<polyline points="680.8,1261.9 695.9,1244.1 709.6,1229 723.3,1215.3 737,1204.4 747.9,1196.2 764.4,1182.5 778.1,1173.4 800,1158.4 819.2,1147.4 832.9,1140 850.7,1131.8 874,1121.6 901.4,1111.2 928.8,1102.5 960,1094.8 980.5,1089.3 1005.6,1084.3 1030.7,1079.3 1055.8,1075.8 1080.9,1072.3 1106,1069.2 1131.1,1067.2 1156.3,1065.2 1181.4,1063.7 1206.5,1062.2 1231.6,1060.7 1256.7,1058.7 1287.9,1057.2" stroke="#1a601a" stroke-width="4.4" stroke-dasharray="13.5 3"/>
<polyline points="82,1256.6 435,1256.6 437,1257.6 450,1257.6 452,1258.2 545,1258.2 548,1259.2 611,1259.2 612.5,1260.8 654.8,1260.8 661.6,1261.9 680.8,1261.9 695.9,1244.1 709.6,1229 723.3,1215.3 737,1204.4 747.9,1196.2 764.4,1182.5 778.1,1173.4 800,1158.4 819.2,1147.4 832.9,1140 850.7,1131.8 874,1121.6 901.4,1111.2 928.8,1102.5 960,1094.8 980.5,1089.3 1005.6,1084.3 1030.7,1079.3 1055.8,1075.8 1080.9,1072.3 1106,1069.2 1131.1,1067.2 1156.3,1065.2 1181.4,1063.7 1206.5,1062.2 1231.6,1060.7 1256.7,1058.7 1287.9,1057.2" stroke="#2ca02c" stroke-width="3.2"/>
</g>
<path d="M81.5 1041V1278.5H1288.8" stroke="#969696" stroke-width="1" fill="none"/>
<text x="76.5" y="1093.9" font-size="13" fill="#e9e9e9" text-anchor="end">150</text>
<text x="76.5" y="1199.7" font-size="13" fill="#e9e9e9" text-anchor="end">140</text>
<text x="286" y="1294" font-size="13" fill="#e9e9e9" text-anchor="middle" textLength="45" lengthAdjust="spacingAndGlyphs">-1d,20h</text>
<text x="594" y="1294" font-size="13" fill="#e9e9e9" text-anchor="middle" textLength="45" lengthAdjust="spacingAndGlyphs">-1d,19h</text>
<text x="902" y="1294" font-size="13" fill="#e9e9e9" text-anchor="middle" textLength="45" lengthAdjust="spacingAndGlyphs">-1d,18h</text>
<text x="1210" y="1294" font-size="13" fill="#e9e9e9" text-anchor="middle" textLength="45" lengthAdjust="spacingAndGlyphs">-1d,17h</text>
<text transform="translate(38.6 1161) rotate(-90)" font-size="13" fill="#e9e9e9" text-anchor="middle">V</text>
<text x="684.5" y="1031.5" font-size="13" fill="#e9e9e9" text-anchor="middle" textLength="312.5" lengthAdjust="spacingAndGlyphs">H1:SQZ-CLF_REFL_RF6_PHASE_PHASEDEG [m-trend]</text>
<text x="657" y="1335.8" font-size="16" fill="#e9e9e9" text-anchor="middle" textLength="408" lengthAdjust="spacingAndGlyphs">t0 = Mon Oct 06 2025 15:48:45 UTC [1443800943.3432]</text>
<rect x="6.5" y="1355.5" width="101" height="26" rx="4" fill="none" stroke="#fafafa"/>
<rect x="7.5" y="1356.5" width="99" height="24" rx="3" fill="url(#btn)" stroke="#8f8f8f"/>
<text x="32" y="1372.7" font-size="13" fill="#1a1a1a" textLength="64" lengthAdjust="spacingAndGlyphs">start online</text>
<path d="M18.5 1363.5 L25.5 1368 L18.5 1372.5 Z" fill="#f4f4f4" stroke="#9a9a9a"/>
<rect x="108.5" y="1355.5" width="101" height="26" rx="4" fill="none" stroke="#fafafa"/>
<rect x="109.5" y="1356.5" width="99" height="24" rx="3" fill="url(#btn)" stroke="#a2a2a2"/>
<text x="135" y="1372.7" font-size="13" fill="#b4b4b4" textLength="62" lengthAdjust="spacingAndGlyphs">stop online</text>
<rect x="121.5" y="1364.5" width="7" height="7" fill="#f4f4f4" stroke="#c8c8c8"/>
<rect x="210.5" y="1355.5" width="101" height="26" rx="4" fill="none" stroke="#fafafa"/>
<rect x="211.5" y="1356.5" width="99" height="24" rx="3" fill="url(#btn)" stroke="#8f8f8f"/>
<text x="261" y="1372.7" font-size="13" fill="#1a1a1a" text-anchor="middle" textLength="28.5" lengthAdjust="spacingAndGlyphs">reset</text>
<rect x="312.5" y="1355.5" width="101" height="26" rx="4" fill="none" stroke="#fafafa"/>
<rect x="313.5" y="1356.5" width="99" height="24" rx="3" fill="url(#btn)" stroke="#8f8f8f"/>
<text x="363" y="1372.7" font-size="13" fill="#1a1a1a" text-anchor="middle" textLength="74.5" lengthAdjust="spacingAndGlyphs">add channels</text>
<rect x="1196.5" y="1355.5" width="81" height="26" rx="4" fill="none" stroke="#fafafa"/>
<rect x="1197.5" y="1356.5" width="79" height="24" rx="3" fill="url(#btn)" stroke="#8f8f8f"/>
<text x="1237" y="1372.7" font-size="13" fill="#1a1a1a" text-anchor="middle" textLength="51.5" lengthAdjust="spacingAndGlyphs">snapshot</text>
<path d="M1286 1372.5 L1292.5 1364 L1299 1372.5 Z" fill="#3a3a3a"/>
<text x="20" y="1402.5" font-size="13" fill="#1a1a1a" textLength="202" lengthAdjust="spacingAndGlyphs">h1daqnds1:8088&#160;&#160;[428509 channels]</text>
<text x="1129.6" y="1402.5" font-size="13" fill="#1a1a1a" textLength="155" lengthAdjust="spacingAndGlyphs"><tspan fill="#0000ee" text-decoration="underline">ndscope</tspan> <tspan fill="#0000ee" text-decoration="underline">0.19.3</tspan> (<tspan fill="#0000ee" text-decoration="underline">report bug</tspan>)</text>
<g fill="#b4b4b4"><rect x="1306" y="1401" width="1" height="1"/><rect x="1306" y="1404" width="1" height="1"/><rect x="1303" y="1404" width="1" height="1"/><rect x="1306" y="1407" width="1" height="1"/><rect x="1303" y="1407" width="1" height="1"/><rect x="1300" y="1407" width="1" height="1"/><rect x="1306" y="1410" width="1" height="1"/><rect x="1303" y="1410" width="1" height="1"/><rect x="1300" y="1410" width="1" height="1"/><rect x="1297" y="1410" width="1" height="1"/></g>
</svg></body></html>
